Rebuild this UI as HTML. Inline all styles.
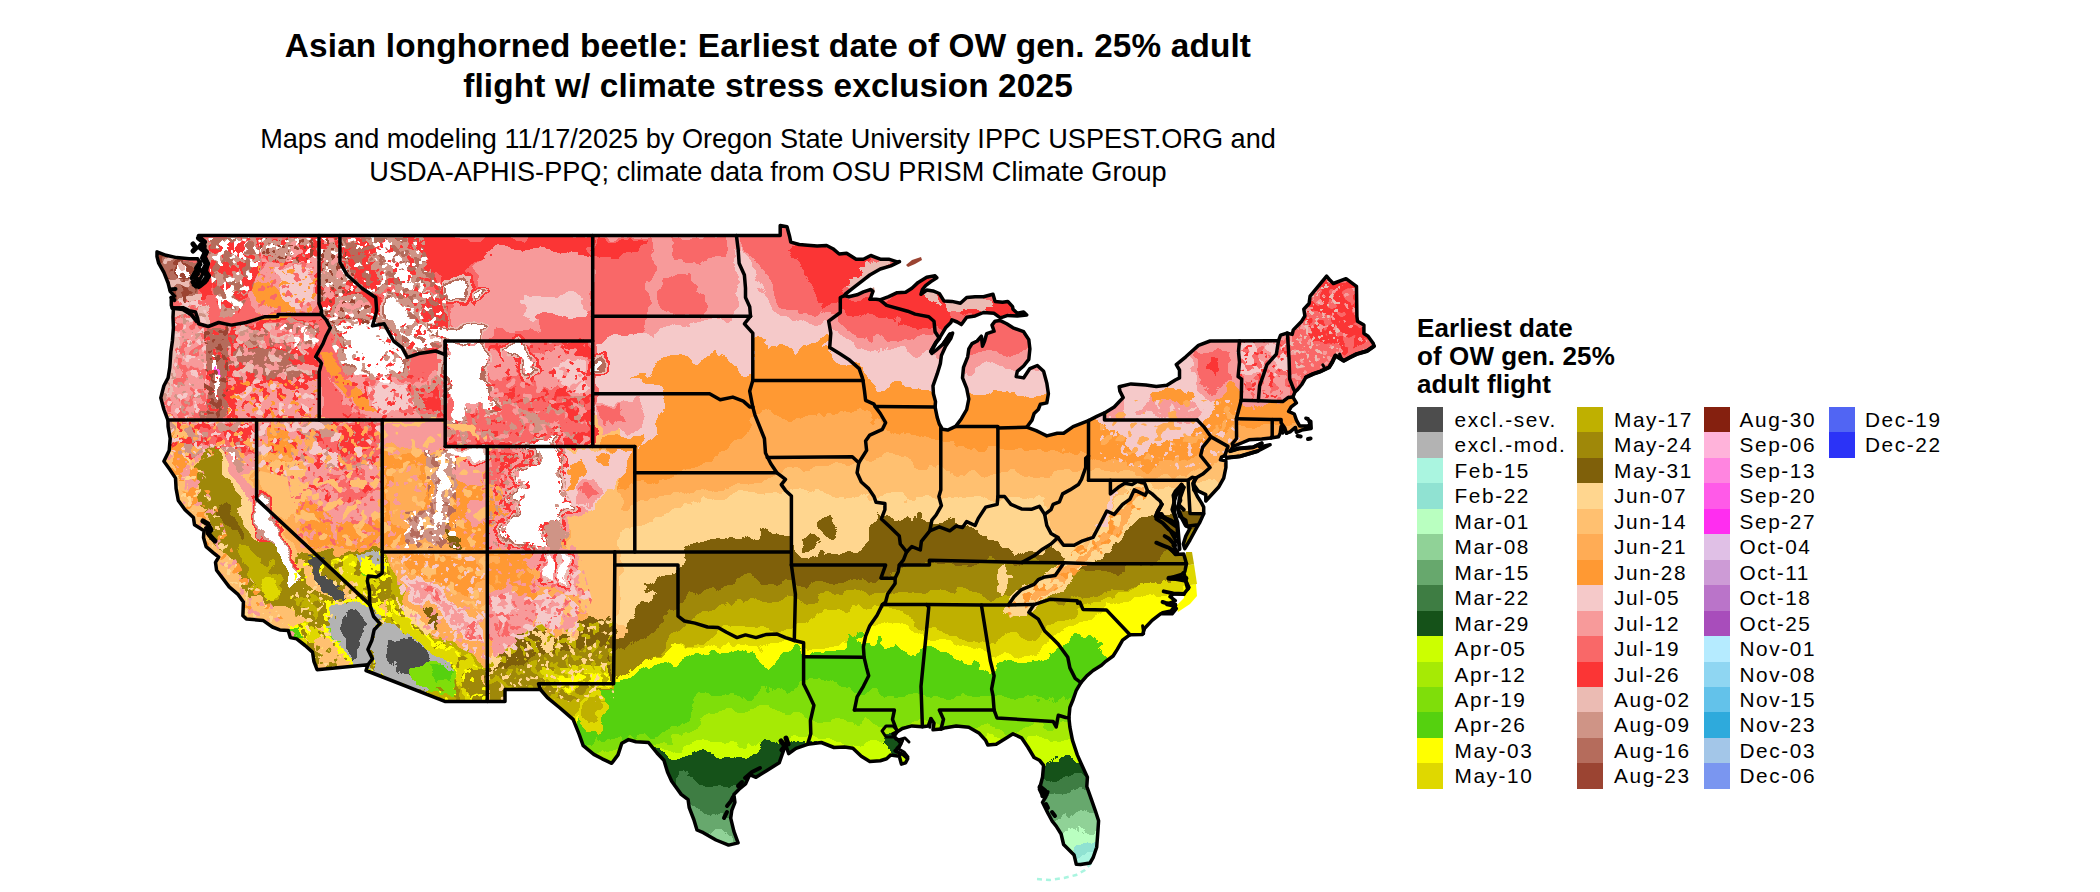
<!DOCTYPE html>
<html><head><meta charset="utf-8"><title>ALB map</title>
<style>
html,body{margin:0;padding:0;background:#fff;}
body{width:2100px;height:892px;position:relative;overflow:hidden;font-family:"Liberation Sans",sans-serif;color:#000;}
.t{position:absolute;white-space:nowrap;text-align:center;left:0;width:1536px;}
.t1{font-weight:bold;font-size:33.33px;letter-spacing:0.15px;line-height:40px;}
.t2{font-size:27.14px;line-height:33.25px;}
.lt{position:absolute;left:1417px;font-weight:bold;font-size:26px;letter-spacing:0.1px;line-height:28px;white-space:nowrap;}
.sw{position:absolute;width:26px;height:25.9px;}
.lb{position:absolute;font-size:20.8px;letter-spacing:1.6px;white-space:nowrap;line-height:25.45px;}
svg{position:absolute;left:0;top:0;}
</style></head><body>
<div class="t t1" style="top:26px">Asian longhorned beetle: Earliest date of OW gen. 25% adult<br>flight w/ climate stress exclusion 2025</div>
<div class="t t2" style="top:122px">Maps and modeling 11/17/2025 by Oregon State University IPPC USPEST.ORG and<br>USDA-APHIS-PPQ; climate data from OSU PRISM Climate Group</div>
<div class="lt" style="top:314px">Earliest date<br>of OW gen. 25%<br>adult flight</div>
<svg width="2100" height="892" viewBox="0 0 2100 892">
<defs>
<clipPath id="us"><path d="M198.5,235.5 L780.2,235.5 L780.2,225.5 L787.0,226.8 L789.7,236.8 L790.8,242.1 L799.2,244.5 L807.6,245.3 L817.1,246.0 L826.6,245.5 L832.9,248.7 L839.2,254.0 L846.6,253.2 L856.1,259.2 L863.4,259.2 L870.8,255.5 L880.3,259.2 L888.7,259.2 L897.2,261.9 L899.5,261.6 L890.8,265.8 L880.3,269.0 L869.8,275.0 L861.3,281.6 L852.9,288.2 L845.5,294.0 L844.5,295.6 L848.7,296.7 L857.1,294.8 L863.4,291.9 L870.8,289.5 L872.9,291.4 L870.8,297.5 L869.8,299.3 L876.1,299.3 L879.9,299.8 L888.7,296.7 L897.2,292.7 L905.6,292.2 L911.9,288.2 L918.2,282.4 L926.7,277.2 L935.1,275.8 L936.8,277.7 L930.9,281.6 L925.6,285.6 L922.4,289.5 L921.0,294.3 L926.7,290.1 L933.0,290.9 L939.3,293.5 L943.9,300.9 L951.9,301.4 L960.4,303.3 L966.7,297.5 L975.1,296.7 L983.5,296.7 L993.0,294.3 L995.1,301.4 L1002.5,302.2 L1007.8,301.4 L1012.6,306.7 L1013.0,309.3 L1017.3,313.3 L1023.6,312.0 L1026.7,315.1 L1017.3,315.9 L1007.8,315.4 L1000.4,317.8 L994.1,313.3 L983.5,312.5 L975.1,315.9 L966.7,317.2 L961.4,324.6 L957.2,322.0 L951.9,319.9 L950.9,322.5 L945.6,327.8 L939.3,338.3 L936.1,342.3 L930.9,351.5 L931.9,353.4 L936.1,350.2 L943.5,343.6 L949.8,334.4 L952.6,333.1 L950.9,338.3 L945.6,346.2 L941.4,355.5 L940.4,363.4 L937.2,373.9 L933.0,385.8 L933.4,393.7 L935.5,401.6 L935.1,407.1 L937.2,417.4 L939.3,424.0 L942.5,429.3 L947.7,430.1 L954.0,427.2 L955.7,426.4 L961.4,418.7 L966.7,409.5 L968.8,399.0 L966.7,388.4 L962.5,377.9 L963.5,367.3 L967.7,356.8 L968.8,348.9 L972.0,343.6 L977.2,341.0 L981.4,336.2 L982.5,346.2 L984.6,341.0 L986.7,333.6 L994.1,331.2 L992.0,325.1 L995.1,321.2 L999.8,320.4 L1006.7,323.8 L1013.0,327.8 L1023.6,331.7 L1028.8,339.6 L1029.9,348.9 L1028.8,359.4 L1023.6,366.0 L1017.3,371.3 L1016.2,376.6 L1023.6,377.9 L1029.9,368.6 L1037.3,365.5 L1043.6,371.3 L1046.8,383.1 L1048.4,393.7 L1046.8,402.9 L1040.4,404.2 L1038.3,409.5 L1034.1,413.5 L1032.0,420.1 L1026.7,427.2 L1036.2,430.6 L1041.5,433.2 L1046.8,435.9 L1057.3,433.2 L1063.6,433.2 L1073.1,426.6 L1088.5,420.6 L1097.3,416.1 L1104.5,412.9 L1114.2,406.9 L1119.4,401.6 L1123.2,397.6 L1119.9,391.1 L1119.2,386.8 L1131.0,383.9 L1145.8,385.0 L1156.3,386.6 L1166.9,385.3 L1175.3,380.0 L1179.5,377.9 L1179.5,370.0 L1176.3,364.7 L1185.8,356.8 L1198.5,345.4 L1210.1,341.0 L1278.5,340.7 L1280.6,335.2 L1287.0,333.1 L1292.2,334.4 L1293.3,329.9 L1301.7,321.2 L1304.9,315.9 L1303.8,309.3 L1309.1,303.5 L1310.1,296.1 L1326.6,276.1 L1330.1,280.3 L1333.3,283.5 L1346.0,278.7 L1356.5,286.4 L1356.9,316.4 L1357.5,321.2 L1363.9,325.1 L1363.9,333.6 L1368.1,336.2 L1373.3,343.6 L1374.0,346.2 L1367.0,351.0 L1356.5,354.1 L1350.2,357.3 L1343.8,360.7 L1335.4,355.5 L1332.3,362.1 L1329.1,367.3 L1320.7,371.3 L1313.3,373.9 L1305.9,377.3 L1301.7,384.5 L1297.5,389.7 L1295.0,391.8 L1292.9,397.1 L1296.4,402.9 L1291.2,406.9 L1288.6,411.4 L1294.3,414.0 L1296.4,420.1 L1299.6,425.9 L1308.0,426.1 L1310.1,424.0 L1308.0,418.7 L1305.9,418.2 L1310.8,421.4 L1311.2,428.5 L1301.7,430.1 L1296.4,432.4 L1295.4,427.4 L1290.1,431.9 L1286.5,433.2 L1283.8,429.3 L1281.1,426.6 L1280.2,433.2 L1278.5,436.7 L1270.9,438.0 L1261.7,439.0 L1249.0,439.8 L1242.7,442.5 L1233.2,446.4 L1230.1,451.2 L1238.5,448.5 L1253.2,447.2 L1261.7,443.3 L1259.6,446.9 L1270.1,444.8 L1257.5,451.2 L1240.6,456.2 L1226.9,457.8 L1224.8,455.6 L1221.6,457.0 L1220.4,459.9 L1225.9,460.9 L1225.9,467.5 L1223.7,478.1 L1218.5,487.3 L1211.1,495.2 L1205.8,501.0 L1205.8,494.7 L1198.5,491.2 L1193.6,484.6 L1194.2,480.7 L1195.9,478.1 L1193.2,483.3 L1194.2,489.9 L1197.4,496.5 L1201.6,503.1 L1203.7,507.1 L1203.7,513.7 L1199.5,522.9 L1196.4,528.2 L1190.0,540.0 L1184.8,548.7 L1183.3,544.0 L1185.8,536.1 L1190.0,528.2 L1186.9,526.3 L1185.8,520.2 L1179.5,516.3 L1177.4,507.1 L1180.6,500.5 L1179.5,492.6 L1183.7,487.3 L1181.6,484.6 L1175.3,491.2 L1173.2,495.2 L1174.2,501.8 L1172.1,509.7 L1175.3,517.6 L1176.8,524.2 L1171.1,520.2 L1163.7,517.6 L1161.6,513.7 L1156.3,515.0 L1159.5,508.4 L1161.8,504.4 L1158.4,509.7 L1155.3,516.3 L1162.6,517.6 L1169.0,521.6 L1177.4,527.6 L1177.4,536.1 L1171.1,532.1 L1176.3,541.3 L1173.2,545.3 L1177.4,551.9 L1171.1,549.2 L1175.3,554.5 L1183.7,554.0 L1186.5,563.7 L1184.8,571.7 L1181.6,574.3 L1173.2,576.9 L1169.0,578.2 L1177.4,579.6 L1185.8,580.9 L1189.0,587.5 L1183.7,594.1 L1173.2,594.1 L1170.0,596.7 L1175.3,600.7 L1166.9,604.6 L1173.2,605.9 L1176.3,608.6 L1172.1,613.8 L1160.5,613.8 L1152.1,620.4 L1144.7,628.3 L1142.6,634.4 L1130.0,634.7 L1122.6,640.2 L1117.3,649.4 L1113.1,656.0 L1105.8,661.3 L1101.5,665.2 L1093.1,670.5 L1086.8,675.8 L1080.9,682.7 L1076.3,690.3 L1073.1,699.5 L1069.9,707.4 L1068.9,717.7 L1069.9,727.2 L1072.5,740.4 L1077.3,754.9 L1082.6,766.8 L1087.4,777.3 L1086.8,786.5 L1091.0,798.4 L1095.2,810.3 L1098.6,820.8 L1097.7,834.0 L1096.7,847.2 L1093.1,857.7 L1090.0,863.0 L1080.5,864.6 L1076.3,864.3 L1074.1,855.1 L1063.6,844.5 L1061.1,834.0 L1056.2,826.1 L1052.0,820.8 L1047.8,812.9 L1042.5,802.3 L1045.7,797.1 L1047.8,791.8 L1042.5,795.8 L1039.4,789.2 L1042.5,777.3 L1043.6,765.4 L1039.4,760.2 L1034.1,757.5 L1027.8,747.0 L1021.5,737.8 L1013.0,733.8 L1006.7,737.8 L996.2,744.3 L987.8,744.9 L985.7,740.4 L979.3,733.3 L968.8,727.2 L956.2,725.9 L945.6,727.7 L941.0,729.1 L933.0,729.8 L934.0,723.3 L930.9,718.5 L928.3,725.9 L922.4,726.7 L911.9,725.9 L902.4,728.5 L897.2,731.7 L892.9,733.8 L896.1,739.1 L902.4,740.4 L899.3,747.0 L895.1,750.9 L903.5,754.9 L907.7,758.8 L905.6,762.8 L901.4,764.1 L899.3,756.2 L890.8,754.9 L886.6,758.8 L880.3,760.7 L869.8,761.5 L861.3,756.2 L852.9,748.3 L844.5,747.0 L834.0,747.5 L821.3,742.5 L807.6,744.3 L796.0,748.3 L788.7,753.6 L785.5,744.3 L783.4,750.9 L779.2,762.8 L766.5,770.7 L756.0,777.3 L749.7,774.7 L745.5,783.9 L739.1,789.2 L733.9,794.4 L734.9,802.3 L731.8,810.3 L730.7,818.2 L733.9,831.3 L738.1,842.9 L728.6,845.1 L716.0,840.0 L703.3,832.7 L697.0,830.0 L693.8,819.5 L689.2,807.6 L688.1,799.7 L681.2,794.4 L671.7,781.3 L667.5,772.0 L663.9,760.2 L657.0,753.0 L648.5,742.5 L635.9,741.7 L628.5,739.6 L621.8,743.3 L618.0,754.9 L611.7,763.3 L602.2,758.8 L593.8,754.4 L583.2,745.7 L579.0,733.8 L573.1,719.3 L560.0,708.0 L547.4,697.7 L540.4,689.5 L505.0,689.5 L505.0,701.4 L444.8,701.4 L366.0,670.5 L367.9,664.7 L317.1,669.7 L313.9,661.3 L312.5,652.1 L305.1,645.5 L296.7,638.9 L290.3,637.6 L288.2,630.4 L279.8,629.9 L272.4,627.0 L263.0,620.4 L246.7,619.1 L242.9,615.7 L243.4,602.0 L237.7,594.1 L229.2,586.9 L216.6,570.3 L215.5,562.4 L218.7,557.2 L213.4,552.9 L206.1,546.6 L203.5,537.4 L204.0,530.8 L194.5,524.7 L193.4,517.6 L185.0,509.7 L178.3,500.5 L176.1,488.6 L175.5,478.1 L170.2,470.1 L163.9,461.2 L169.2,450.4 L170.2,438.5 L168.1,426.6 L167.9,420.1 L163.9,409.5 L160.8,397.9 L163.9,385.8 L168.1,377.9 L169.8,367.3 L170.9,351.5 L172.4,341.0 L173.4,327.8 L173.0,317.2 L173.4,309.3 L172.4,308.0 L171.3,305.4 L171.3,297.5 L174.5,296.1 L170.2,291.4 L168.1,283.0 L163.9,272.4 L158.7,263.2 L157.0,256.6 L157.0,251.8 L166.0,255.3 L176.6,257.6 L189.2,258.7 L197.6,258.7 L200.8,264.5 L194.5,272.4 L191.3,278.2 L195.5,277.7 L199.7,268.5 L202.9,273.7 L198.7,281.6 L193.4,285.1 L201.9,284.3 L207.1,280.3 L206.1,272.4 L208.2,263.2 L204.0,254.0 L205.0,246.0 L201.9,239.5 L198.5,235.5Z"/></clipPath>
<filter id="rough" filterUnits="userSpaceOnUse" x="120" y="200" width="1320" height="692" color-interpolation-filters="sRGB"><feTurbulence type="fractalNoise" baseFrequency="0.045" numOctaves="3" seed="7" result="n"/><feDisplacementMap in="SourceGraphic" in2="n" scale="22" xChannelSelector="R" yChannelSelector="G"/></filter>
<filter id="sa" filterUnits="userSpaceOnUse" x="120" y="200" width="1320" height="692" color-interpolation-filters="sRGB"><feTurbulence type="fractalNoise" baseFrequency="0.11" numOctaves="2" seed="11" result="n"/><feColorMatrix in="n" type="matrix" values="0 0 0 0 0 0 0 0 0 0 0 0 0 0 0 40 0 0 0 -20.00" result="m"/><feComposite in="SourceGraphic" in2="m" operator="in"/></filter>
<filter id="sb" filterUnits="userSpaceOnUse" x="120" y="200" width="1320" height="692" color-interpolation-filters="sRGB"><feTurbulence type="fractalNoise" baseFrequency="0.11" numOctaves="2" seed="23" result="n"/><feColorMatrix in="n" type="matrix" values="0 0 0 0 0 0 0 0 0 0 0 0 0 0 0 40 0 0 0 -22.00" result="m"/><feComposite in="SourceGraphic" in2="m" operator="in"/></filter>
<filter id="sc" filterUnits="userSpaceOnUse" x="120" y="200" width="1320" height="692" color-interpolation-filters="sRGB"><feTurbulence type="fractalNoise" baseFrequency="0.13" numOctaves="2" seed="37" result="n"/><feColorMatrix in="n" type="matrix" values="0 0 0 0 0 0 0 0 0 0 0 0 0 0 0 40 0 0 0 -23.20" result="m"/><feComposite in="SourceGraphic" in2="m" operator="in"/></filter>
<filter id="sd" filterUnits="userSpaceOnUse" x="120" y="200" width="1320" height="692" color-interpolation-filters="sRGB"><feTurbulence type="fractalNoise" baseFrequency="0.13" numOctaves="2" seed="41" result="n"/><feColorMatrix in="n" type="matrix" values="0 0 0 0 0 0 0 0 0 0 0 0 0 0 0 40 0 0 0 -24.40" result="m"/><feComposite in="SourceGraphic" in2="m" operator="in"/></filter>
<filter id="se" filterUnits="userSpaceOnUse" x="120" y="200" width="1320" height="692" color-interpolation-filters="sRGB"><feTurbulence type="fractalNoise" baseFrequency="0.16" numOctaves="2" seed="53" result="n"/><feColorMatrix in="n" type="matrix" values="0 0 0 0 0 0 0 0 0 0 0 0 0 0 0 40 0 0 0 -25.60" result="m"/><feComposite in="SourceGraphic" in2="m" operator="in"/></filter>
<filter id="sf" filterUnits="userSpaceOnUse" x="120" y="200" width="1320" height="692" color-interpolation-filters="sRGB"><feTurbulence type="fractalNoise" baseFrequency="0.09" numOctaves="2" seed="67" result="n"/><feColorMatrix in="n" type="matrix" values="0 0 0 0 0 0 0 0 0 0 0 0 0 0 0 40 0 0 0 -22.00" result="m"/><feComposite in="SourceGraphic" in2="m" operator="in"/></filter>
<filter id="sg" filterUnits="userSpaceOnUse" x="120" y="200" width="1320" height="692" color-interpolation-filters="sRGB"><feTurbulence type="fractalNoise" baseFrequency="0.09" numOctaves="2" seed="71" result="n"/><feColorMatrix in="n" type="matrix" values="0 0 0 0 0 0 0 0 0 0 0 0 0 0 0 40 0 0 0 -24.00" result="m"/><feComposite in="SourceGraphic" in2="m" operator="in"/></filter>
<filter id="sh" filterUnits="userSpaceOnUse" x="120" y="200" width="1320" height="692" color-interpolation-filters="sRGB"><feTurbulence type="fractalNoise" baseFrequency="0.2" numOctaves="2" seed="83" result="n"/><feColorMatrix in="n" type="matrix" values="0 0 0 0 0 0 0 0 0 0 0 0 0 0 0 40 0 0 0 -24.80" result="m"/><feComposite in="SourceGraphic" in2="m" operator="in"/></filter>
<filter id="si" filterUnits="userSpaceOnUse" x="120" y="200" width="1320" height="692" color-interpolation-filters="sRGB"><feTurbulence type="fractalNoise" baseFrequency="0.11" numOctaves="2" seed="97" result="n"/><feColorMatrix in="n" type="matrix" values="0 0 0 0 0 0 0 0 0 0 0 0 0 0 0 40 0 0 0 -20.80" result="m"/><feComposite in="SourceGraphic" in2="m" operator="in"/></filter>
<filter id="sj" filterUnits="userSpaceOnUse" x="120" y="200" width="1320" height="692" color-interpolation-filters="sRGB"><feTurbulence type="fractalNoise" baseFrequency="0.14" numOctaves="2" seed="101" result="n"/><feColorMatrix in="n" type="matrix" values="0 0 0 0 0 0 0 0 0 0 0 0 0 0 0 40 0 0 0 -22.80" result="m"/><feComposite in="SourceGraphic" in2="m" operator="in"/></filter>
</defs>
<g clip-path="url(#us)"><g filter="url(#rough)" shape-rendering="crispEdges">
<polygon fill="#f79a9a" points="580,220 1420,220 1420,900 580,900"/>
<polygon fill="#f96868" points="594,237 652,237 656,260 646,290 650,315 650,320 640,338 594,342"/>
<polygon fill="#f96868" points="670,237 726,237 724,257 700,263 672,258"/>
<polygon fill="#f96868" points="660,283 690,279 706,290 704,313 680,316 660,310"/>
<polygon fill="#f96868" points="738,225 752,255 766,275 772,291 780,305 800,313 820,311 828,313 838,319 852,329 870,337 890,341 910,343 930,337 942,329 955,335 960,352 1000,352 1050,350 1050,225"/>
<polygon fill="#f79a9a" points="1176,352 1200,340 1238,340 1240,392 1215,398 1190,392"/>
<polygon fill="#f96868" points="1196,352 1214,346 1232,352 1234,384 1216,392 1200,382"/>
<polygon fill="#f79a9a" points="1238,336 1310,318 1310,368 1270,380 1240,378"/>
<polygon fill="#f5c9c9" points="1240,340 1256,338 1258,376 1240,380"/>
<polygon fill="#f5c9c9" points="1268,350 1284,340 1290,372 1272,378"/>
<polygon fill="#f96868" points="1285,268 1385,268 1385,400 1285,400"/>
<polygon fill="#fb3535" points="596,239 646,239 642,252 620,257 596,255"/>
<polygon fill="#fb3535" points="790,249 800,243 830,253 872,259 866,271 848,281 842,291 840,305 822,309 816,295 810,281 800,265"/>
<polygon fill="#fb3535" points="838,297 870,297 900,303 918,289 932,299 952,309 944,321 920,329 900,321 880,319 860,315 840,309"/>
<polygon fill="#fb3535" points="884,300 900,288 930,280 950,288 950,318 920,322 895,316"/>
<polygon fill="#fb3535" points="957,301 1000,299 1028,306 1020,316 985,316 960,313"/>
<polygon fill="#fb3535" points="1300,280 1366,280 1372,338 1345,352 1312,342 1296,312"/>
<polygon fill="#fb3535" points="1206,358 1218,356 1222,370 1212,376 1205,368"/>
<polygon fill="#f79a9a" points="1296,402 1318,384 1345,368 1372,350 1388,356 1388,405"/>
<polygon fill="#f79a9a" points="1240,372 1270,376 1300,372 1300,402 1240,402"/>
<polygon fill="#ebbbb3" points="846,285 860,267 880,259 896,259 872,275 854,289"/>
<polygon fill="#ebbbb3" points="921,291 934,290 942,302 932,306"/>
<polygon fill="#ebbbb3" points="946,300 990,300 992,309 950,311"/>
<polygon fill="#f5c9c9" points="594,345 610,337 630,337 650,331 670,325 684,329 700,319 720,321 732,319 740,300 736,270 732,245 745,243 752,265 756,285 764,301 772,311 780,321 792,325 810,323 826,321 830,329 840,337 860,345 880,349 900,353 920,355 948,353 948,420 594,452"/>
<polygon fill="#f5c9c9" points="520,296 580,294 584,318 548,324 520,318"/>
<polygon fill="#f5c9c9" points="955,372 1052,368 1056,402 955,402"/>
<polygon fill="#f5c9c9" points="1085,398 1128,382 1150,352 1180,346 1192,350 1196,388 1214,398 1238,394 1238,436 1215,446 1195,440 1180,446 1160,447 1140,451 1120,447 1105,441 1095,427"/>
<polygon fill="#f79a9a" points="1150,392 1180,396 1200,410 1190,424 1160,420 1140,410"/>
<polygon fill="#f79a9a" points="1100,404 1125,400 1130,414 1108,420"/>
<polygon fill="#ff9933" points="566,552 568,520 574,512 588,508 600,504 618,494 616,480 620,460 632,448 640,446 656,438 660,420 664,402 656,388 634,378 650,371 664,357 684,357 704,363 716,347 728,361 740,373 752,370 756,337 768,335 772,345 784,353 796,355 806,345 820,339 826,345 836,363 860,369 868,377 880,385 900,387 920,393 945,395 960,392 980,390 1000,393 1020,395 1050,392 1075,400 1095,410 1102,422 1110,436 1125,442 1140,446 1160,442 1180,440 1195,436 1205,425 1212,410 1222,395 1232,386 1238,392 1240,400 1255,406 1270,400 1290,398 1310,396 1330,396 1340,420 1420,420 1420,900 560,900"/>
<polygon fill="#ff9933" points="1150,392 1170,388 1192,390 1194,400 1172,404 1152,402"/>
<polygon fill="#f5c9c9" points="1126,440 1146,436 1152,448 1134,456"/>
<polygon fill="#ffac55" points="540,500 560,500 600,500 634,482 660,478 690,472 706,462 724,448 740,432 752,418 770,414 790,418 810,414 835,416 860,414 876,420 888,428 904,432 920,436 938,440 960,446 1000,448 1040,450 1080,452 1095,458 1120,464 1150,468 1175,462 1195,452 1210,442 1225,432 1240,426 1420,426 1420,900 540,900"/>
<polygon fill="#ffc070" points="540,520 560,520 600,518 634,505 660,498 700,492 740,484 770,476 792,470 820,466 856,462 866,458 880,456 900,460 920,464 940,468 960,472 1000,476 1040,474 1080,470 1100,474 1130,478 1160,480 1190,476 1215,464 1230,452 1420,452 1420,900 540,900"/>
<polygon fill="#ffd68f" points="540,540 560,540 600,538 634,528 670,512 700,502 720,497 740,494 760,496 790,492 800,488 820,492 840,492 860,496 876,500 890,498 910,500 938,498 950,500 980,502 1000,500 1030,498 1060,496 1080,500 1100,496 1130,492 1160,488 1190,486 1215,480 1420,480 1420,900 540,900"/>
<polygon fill="#7f600a" points="540,640 560,640 586,616 600,620 614,622 620,630 626,624 638,618 640,606 656,598 660,590 640,588 656,580 668,574 676,568 680,560 684,554 704,544 732,540 740,542 754,536 770,532 788,540 792,554 806,558 820,553 836,556 850,550 864,546 872,530 878,508 884,516 892,518 910,520 920,518 940,520 946,516 960,524 978,524 988,536 1000,540 1008,546 1020,544 1032,550 1044,546 1056,552 1070,560 1085,562 1100,554 1112,538 1130,526 1150,516 1170,513 1190,513 1210,513 1420,513 1420,900 540,900"/>
<polygon fill="#7f600a" points="820,518 832,514 840,526 832,536 822,532"/>
<polygon fill="#7f600a" points="800,536 812,532 816,546 804,552"/>
<polygon fill="#7f600a" points="760,528 772,526 774,536 762,538"/>
<polygon fill="#9f8809" points="540,670 560,670 600,650 620,648 640,640 660,625 680,600 690,590 700,596 712,584 724,590 736,582 750,576 764,580 780,584 792,580 810,584 830,586 850,584 870,580 892,576 900,570 920,564 960,560 1000,562 1040,563 1070,568 1100,572 1130,570 1160,566 1170,545 1190,530 1215,520 1420,520 1420,900 540,900"/>
<polygon fill="#bfb000" points="540,700 560,700 600,690 640,665 660,650 680,630 700,615 720,606 740,600 760,598 780,604 800,600 820,596 850,596 880,594 900,590 930,590 960,592 1000,596 1040,598 1060,604 1080,600 1100,592 1130,588 1160,584 1190,570 1215,545 1420,545 1420,900 540,900"/>
<polygon fill="#dfd800" points="540,720 560,720 600,705 640,690 660,672 680,650 700,640 720,630 740,626 760,628 780,632 796,626 820,612 850,606 880,604 900,612 920,624 950,636 980,642 1000,640 1030,636 1050,628 1080,612 1110,596 1140,586 1170,578 1200,568 1420,568 1420,900 540,900"/>
<polygon fill="#ffff00" points="540,735 560,735 596,700 616,672 630,668 646,658 664,652 684,648 704,644 720,648 740,644 756,648 770,642 790,642 802,642 810,648 830,648 846,642 860,640 866,626 880,622 900,626 920,630 928,634 930,638 950,644 970,648 988,652 1000,654 1020,654 1040,648 1060,638 1080,624 1100,612 1116,602 1140,598 1170,594 1196,590 1420,590 1420,900 540,900"/>
<polygon fill="#55d10f" points="540,750 560,750 580,720 592,690 610,680 624,676 644,668 664,662 684,660 704,656 724,654 740,650 756,656 768,668 780,656 790,650 800,646 804,652 820,654 840,652 848,644 852,632 860,640 868,644 880,640 890,650 910,652 920,644 928,646 932,652 940,658 956,662 970,664 988,667 1000,665 1010,663 1040,657 1060,647 1075,639 1090,637 1103,646 1113,653 1130,656 1420,656 1420,900 540,900"/>
<polygon fill="#7fde0a" points="540,780 560,780 596,738 640,734 680,727 692,712 700,697 750,694 800,684 812,677 860,692 900,696 940,698 1000,699 1050,699 1090,691 1120,681 1420,681 1420,900 540,900"/>
<polygon fill="#a6ea05" points="540,800 560,800 600,748 680,740 700,722 720,710 760,708 800,714 812,718 820,722 850,724 864,718 870,724 900,726 920,724 930,726 980,728 1000,730 1040,728 1080,724 1100,716 1112,706 1420,706 1420,900 540,900"/>
<polygon fill="#ccff00" points="540,820 560,820 640,752 680,748 700,742 720,740 740,744 760,742 790,738 810,740 820,742 850,744 880,747 900,744 930,738 960,735 1000,738 1040,740 1080,740 1100,738 1112,732 1420,732 1420,900 540,900"/>
<polygon fill="#155219" points="640,760 654,747 670,757 692,755 708,751 720,757 732,757 744,759 756,753 766,741 776,736 788,741 800,746 830,750 830,900 640,900"/>
<polygon fill="#3e7d43" points="660,790 672,779 686,775 696,779 704,787 716,785 728,789 740,786 760,790 760,900 660,900"/>
<polygon fill="#67a86d" points="680,806 688,799 696,803 700,815 710,817 720,813 728,819 750,820 750,900 680,900"/>
<polygon fill="#90d297" points="700,836 708,831 720,833 730,839 750,842 750,900 700,900"/>
<polygon fill="#155219" points="883,737 892,733 902,738 903,750 893,754 884,748"/>
<polygon fill="#155219" points="1030,772 1041,765 1054,758 1067,755 1080,761 1100,765 1100,900 1030,900"/>
<polygon fill="#3e7d43" points="1035,782 1050,777 1066,775 1082,779 1100,782 1100,900 1035,900"/>
<polygon fill="#67a86d" points="1040,798 1056,793 1070,792 1086,796 1104,800 1104,900 1040,900"/>
<polygon fill="#90d297" points="1050,818 1064,814 1080,816 1092,812 1108,812 1108,900 1050,900"/>
<polygon fill="#b9ffc0" points="1058,836 1072,833 1086,830 1098,824 1110,824 1110,900 1058,900"/>
<polygon fill="#90e2d2" points="1066,850 1080,846 1094,840 1104,836 1112,836 1112,900 1066,900"/>
<polygon fill="#aaf5e0" points="1074,860 1088,856 1100,852 1112,850 1112,900 1074,900"/>
<polygon fill="#ffc070" points="1046,500 1060,480 1090,470 1130,470 1150,480 1140,500 1125,520 1105,545 1085,555 1065,545 1050,525"/>
<polygon fill="#ffd68f" points="1006,608 1012,598 1024,590 1036,582 1048,572 1060,564 1068,556 1080,550 1092,540 1098,530 1104,520 1112,510 1120,500 1126,490 1132,482 1140,478 1148,482 1152,494 1140,510 1132,522 1120,536 1112,546 1100,558 1092,564 1080,570 1068,582 1056,590 1044,598 1034,608 1024,616 1010,618"/>
<polygon fill="#ffac55" points="1030,596 1042,586 1056,574 1070,562 1084,552 1096,540 1104,528 1112,516 1122,504 1130,492 1138,486 1142,494 1132,510 1122,524 1112,538 1100,550 1088,560 1074,572 1060,582 1046,592 1034,602"/>
<polygon fill="#f5c9c9" points="1096,524 1104,510 1112,498 1118,488 1122,492 1114,506 1106,518 1100,528"/>
<polygon fill="#ffd68f" points="992,590 998,570 1008,566 1012,580 1002,596"/>
<polygon fill="#ffd68f" points="1010,540 1030,528 1046,530 1052,544 1040,556 1022,554"/>
<polygon fill="#ffd68f" points="950,506 990,503 1010,512 1020,530 1000,538 975,530 955,520"/>
<polygon fill="#f96868" points="140,220 596,220 596,452 566,452 566,470 520,470 487,470 487,462 445,462 445,440 382,440 382,500 330,500 256,470 256,440 140,440"/>
<polygon fill="#ffc070" points="140,420 620,420 620,640 566,640 540,690 540,720 140,720"/>
<polygon fill="#fb3535" points="400,236 594,236 594,258 560,252 520,248 484,254 470,270 440,282 410,282 400,270"/>
<polygon fill="#f79a9a" points="484,252 520,247 560,251 592,256 592,310 560,314 540,330 512,334 496,326 486,310 480,290 476,270"/>
<polygon fill="#f5c9c9" points="520,296 580,294 584,318 548,324 520,318"/>
<polygon fill="#f96868" points="540,318 594,312 594,342 560,342 540,336"/>
<polygon fill="#f79a9a" points="450,300 480,296 500,320 490,338 460,336 448,320"/>
<polygon fill="#fb3535" points="445,398 594,396 594,446 445,446"/>
<polygon fill="#f96868" points="470,404 520,400 560,410 580,430 540,440 500,436 474,424"/>
<polygon fill="#cf9486" points="448,404 470,400 476,420 486,440 460,444 447,430"/>
<polygon fill="#cf9486" points="520,420 546,414 556,430 548,444 524,442"/>
<polygon fill="#f79a9a" points="488,346 508,350 514,372 502,382 488,368"/>
<polygon fill="#f79a9a" points="534,350 570,346 590,360 592,392 560,396 540,380"/>
<polygon fill="#f5c9c9" points="552,366 584,362 590,386 560,390"/>
<polygon fill="#fb3535" points="506,340 520,340 540,362 540,380 524,378 510,360"/>
<polygon fill="#fb3535" points="560,344 592,342 592,356 572,356"/>
<polygon fill="#fb3535" points="258,238 319,238 319,264 290,266 262,262"/>
<polygon fill="#cf9486" points="262,240 290,240 300,252 280,260 264,254"/>
<polygon fill="#f79a9a" points="258,264 319,262 319,312 290,314 262,316 250,300 254,280"/>
<polygon fill="#f5c9c9" points="274,268 312,268 317,300 292,308 278,296"/>
<polygon fill="#ff9933" points="254,278 262,274 270,284 282,298 296,304 300,311 280,313 264,304 256,292"/>
<polygon fill="#ff9933" points="254,318 290,315 292,323 256,326"/>
<polygon fill="#b56c5c" points="158,252 196,256 200,275 196,300 176,306 166,290 160,270"/>
<polygon fill="#ebbbb3" points="172,300 200,298 210,322 176,318"/>
<polygon fill="#fb3535" points="197,262 210,262 212,300 200,300"/>
<polygon fill="#9b4432" points="176,264 184,260 192,264 190,274 180,276" stroke="#9b4432" stroke-width="5" stroke-linejoin="round"/>
<polygon fill="#ffffff" points="176,264 184,260 192,264 190,274 180,276"/>
<polygon fill="#cf9486" points="208,238 258,238 260,262 252,290 238,314 222,314 214,296 210,270"/>
<polygon fill="#fb3535" points="238,262 258,258 256,280 244,300 236,296 240,276"/>
<polygon fill="#ffffff" points="216,240 248,240 250,250 238,256 226,252 216,254"/>
<polygon fill="#ffffff" points="222,284 232,282 236,296 230,308 222,306"/>
<polygon fill="#fb3535" points="216,262 230,260 232,272 220,274"/>
<polygon fill="#fb3535" points="224,246 232,244 234,252 226,254"/>
<polygon fill="#f79a9a" points="166,320 200,326 206,350 204,400 196,419 166,419 162,395 168,360"/>
<polygon fill="#ebbbb3" points="164,325 178,326 176,360 172,395 163,395"/>
<polygon fill="#fb3535" points="226,324 319,322 319,419 226,419"/>
<polygon fill="#b56c5c" points="206,326 226,326 228,360 226,400 222,419 204,419 206,380"/>
<polygon fill="#ffffff" points="214,356 217,356 219,384 216,398 213,396 214,372"/>
<polygon fill="#ff5ae8" points="216,368 221,370 220,378 215,376"/>
<polygon fill="#b56c5c" points="232,348 262,346 286,352 300,364 290,378 262,376 244,370 232,362"/>
<polygon fill="#cf9486" points="236,330 270,330 282,340 250,344"/>
<polygon fill="#cf9486" points="286,322 316,326 316,346 296,350 284,338"/>
<polygon fill="#ffffff" points="304,332 312,334 310,342 304,340"/>
<polygon fill="#f79a9a" points="246,386 319,382 319,419 230,419"/>
<polygon fill="#f96868" points="262,326 300,326 304,342 280,348 264,340"/>
<polygon fill="#fb3535" points="319,238 345,238 360,290 380,300 384,322 340,326 319,312"/>
<polygon fill="#cf9486" points="322,250 338,248 346,272 336,290 324,282"/>
<polygon fill="#cf9486" points="330,296 360,294 372,310 350,322 332,316"/>
<polygon fill="#cf9486" points="340,238 420,238 430,270 424,300 408,300 396,290 376,296 360,288 345,272"/>
<polygon fill="#ffffff" points="370,240 390,240 404,262 412,286 404,288 392,272 380,258"/>
<polygon fill="#fb3535" points="344,244 364,242 372,262 384,280 372,290 358,282 348,266"/>
<polygon fill="#b56c5c" points="352,250 362,250 368,268 358,270"/>
<polygon fill="#ebbbb3" points="388,304 402,302 408,318 404,334 392,330 386,316" stroke="#ebbbb3" stroke-width="12" stroke-linejoin="round"/>
<polygon fill="#b56c5c" points="388,304 402,302 408,318 404,334 392,330 386,316" stroke="#b56c5c" stroke-width="6" stroke-linejoin="round"/>
<polygon fill="#ffffff" points="388,304 402,302 408,318 404,334 392,330 386,316"/>
<polygon fill="#ebbbb3" points="412,302 426,300 428,312 414,314" stroke="#ebbbb3" stroke-width="10" stroke-linejoin="round"/>
<polygon fill="#b56c5c" points="412,302 426,300 428,312 414,314" stroke="#b56c5c" stroke-width="5" stroke-linejoin="round"/>
<polygon fill="#ffffff" points="412,302 426,300 428,312 414,314"/>
<polygon fill="#cf9486" points="396,296 445,296 448,350 420,352 404,350 396,330"/>
<polygon fill="#fb3535" points="420,300 444,300 444,322 426,324"/>
<polygon fill="#ffffff" points="400,332 420,326 436,334 444,346 430,350 408,346"/>
<polygon fill="#ffffff" points="404,312 414,310 416,322 406,324"/>
<polygon fill="#fb3535" points="446,286 456,283 466,288 464,297 452,298" stroke="#fb3535" stroke-width="16" stroke-linejoin="round"/>
<polygon fill="#ebbbb3" points="446,286 456,283 466,288 464,297 452,298" stroke="#ebbbb3" stroke-width="10" stroke-linejoin="round"/>
<polygon fill="#b56c5c" points="446,286 456,283 466,288 464,297 452,298" stroke="#b56c5c" stroke-width="5" stroke-linejoin="round"/>
<polygon fill="#ffffff" points="446,286 456,283 466,288 464,297 452,298"/>
<polygon fill="#fb3535" points="477,293 484,292 484,298 478,298" stroke="#fb3535" stroke-width="12" stroke-linejoin="round"/>
<polygon fill="#ebbbb3" points="477,293 484,292 484,298 478,298" stroke="#ebbbb3" stroke-width="7" stroke-linejoin="round"/>
<polygon fill="#b56c5c" points="477,293 484,292 484,298 478,298" stroke="#b56c5c" stroke-width="3" stroke-linejoin="round"/>
<polygon fill="#ffffff" points="477,293 484,292 484,298 478,298"/>
<polygon fill="#ebbbb3" points="434,328 456,326 480,330 478,342 450,342 436,338" stroke="#ebbbb3" stroke-width="8" stroke-linejoin="round"/>
<polygon fill="#b56c5c" points="434,328 456,326 480,330 478,342 450,342 436,338" stroke="#b56c5c" stroke-width="4" stroke-linejoin="round"/>
<polygon fill="#ffffff" points="434,328 456,326 480,330 478,342 450,342 436,338"/>
<polygon fill="#cf9486" points="330,318 360,312 392,322 408,350 410,374 392,384 366,382 344,368 332,346"/>
<polygon fill="#b56c5c" points="338,326 352,320 372,322 384,330 396,342 404,356 400,372 388,378 372,376 360,366 348,360 340,348" stroke="#b56c5c" stroke-width="4" stroke-linejoin="round"/>
<polygon fill="#ffffff" points="338,326 352,320 372,322 384,330 396,342 404,356 400,372 388,378 372,376 360,366 348,360 340,348"/>
<polygon fill="#cf9486" points="356,336 364,334 368,346 360,350"/>
<polygon fill="#b56c5c" points="376,350 384,348 388,360 380,364"/>
<polygon fill="#fb3535" points="346,340 352,338 354,348 348,350"/>
<polygon fill="#f79a9a" points="328,380 360,374 400,382 445,374 445,412 420,420 370,420 345,402"/>
<polygon fill="#f5c9c9" points="372,388 430,384 440,404 400,412 376,406"/>
<polygon fill="#ff9933" points="320,356 330,352 346,376 366,396 378,408 360,408 340,390 326,372"/>
<polygon fill="#cf9486" points="410,384 445,378 445,420 424,420 412,404"/>
<polygon fill="#fb3535" points="420,390 440,388 442,410 426,412"/>
<polygon fill="#ebbbb3" points="447,342 480,342 488,356 484,372 480,384 490,398 498,410 488,412 476,400 470,404 466,418 452,418 448,400 447,370" stroke="#ebbbb3" stroke-width="10" stroke-linejoin="round"/>
<polygon fill="#b56c5c" points="447,342 480,342 488,356 484,372 480,384 490,398 498,410 488,412 476,400 470,404 466,418 452,418 448,400 447,370" stroke="#b56c5c" stroke-width="5" stroke-linejoin="round"/>
<polygon fill="#ffffff" points="447,342 480,342 488,356 484,372 480,384 490,398 498,410 488,412 476,400 470,404 466,418 452,418 448,400 447,370"/>
<polygon fill="#fb3535" points="508,346 516,344 528,358 534,372 526,372 516,360" stroke="#fb3535" stroke-width="14" stroke-linejoin="round"/>
<polygon fill="#ebbbb3" points="508,346 516,344 528,358 534,372 526,372 516,360" stroke="#ebbbb3" stroke-width="8" stroke-linejoin="round"/>
<polygon fill="#b56c5c" points="508,346 516,344 528,358 534,372 526,372 516,360" stroke="#b56c5c" stroke-width="4" stroke-linejoin="round"/>
<polygon fill="#ffffff" points="508,346 516,344 528,358 534,372 526,372 516,360"/>
<polygon fill="#fb3535" points="597,361 601,361 601,366 597,366" stroke="#fb3535" stroke-width="18" stroke-linejoin="round"/>
<polygon fill="#ebbbb3" points="597,361 601,361 601,366 597,366" stroke="#ebbbb3" stroke-width="12" stroke-linejoin="round"/>
<polygon fill="#b56c5c" points="597,361 601,361 601,366 597,366" stroke="#b56c5c" stroke-width="7" stroke-linejoin="round"/>
<polygon fill="#ffffff" points="597,361 601,361 601,366 597,366"/>
<polygon fill="#ebbbb3" points="541,432 549,432 549,443 541,443" stroke="#ebbbb3" stroke-width="9" stroke-linejoin="round"/>
<polygon fill="#b56c5c" points="541,432 549,432 549,443 541,443" stroke="#b56c5c" stroke-width="4" stroke-linejoin="round"/>
<polygon fill="#ffffff" points="541,432 549,432 549,443 541,443"/>
<polygon fill="#ffac55" points="256,470 270,452 284,446 300,456 320,452 340,458 362,452 382,440 445,440 445,462 487,462 487,470 520,470 566,470 566,560 580,600 590,622 560,640 530,628 518,640 502,652 486,668 470,660 456,652 442,640 430,632 416,628 402,616 392,600 390,580 386,554 370,544 350,552 330,554 310,552 298,548 286,536 272,516 262,500 256,486"/>
<polygon fill="#f79a9a" points="256,421 382,421 382,470 364,490 340,496 318,486 300,470 282,452 268,450 256,462"/>
<polygon fill="#f96868" points="310,424 382,424 382,456 360,468 336,472 320,460"/>
<polygon fill="#fb3535" points="336,430 364,428 370,444 352,452 338,446"/>
<polygon fill="#ffac55" points="300,430 316,428 320,446 306,452"/>
<polygon fill="#f5c9c9" points="322,452 340,450 344,464 328,468"/>
<polygon fill="#cf9486" points="300,424 330,422 336,436 316,442 302,436"/>
<polygon fill="#cf9486" points="340,470 360,462 372,474 362,490 344,488"/>
<polygon fill="#ff9933" points="268,432 290,428 296,446 286,470 270,462"/>
<polygon fill="#ffc070" points="258,474 280,458 300,466 310,490 300,512 280,520 266,500"/>
<polygon fill="#ff9933" points="300,500 340,500 372,506 382,520 382,544 360,548 330,550 308,546 296,524"/>
<polygon fill="#f79a9a" points="308,470 380,468 380,512 352,522 322,514 308,494"/>
<polygon fill="#f96868" points="326,478 356,474 368,490 356,506 334,506"/>
<polygon fill="#ff9933" points="384,452 432,452 434,480 430,510 420,540 384,548"/>
<polygon fill="#ffac55" points="390,470 420,466 426,500 410,530 390,526"/>
<polygon fill="#f79a9a" points="384,424 445,424 445,446 430,450 400,446 384,448"/>
<polygon fill="#ff9933" points="452,470 487,466 487,548 470,550 452,540 446,510"/>
<polygon fill="#f79a9a" points="452,462 487,460 487,480 466,486 452,478"/>
<polygon fill="#fb3535" points="440,448 487,446 487,462 444,462"/>
<polygon fill="#fb3535" points="446,451 484,450 484,457 446,458" stroke="#fb3535" stroke-width="10" stroke-linejoin="round"/>
<polygon fill="#ebbbb3" points="446,451 484,450 484,457 446,458" stroke="#ebbbb3" stroke-width="5" stroke-linejoin="round"/>
<polygon fill="#ffffff" points="446,451 484,450 484,457 446,458"/>
<polygon fill="#cf9486" points="428,452 452,452 454,480 452,510 446,530 438,546 424,546 430,520 434,490"/>
<polygon fill="#ffffff" points="439,456 446,456 448,480 444,500 440,520 436,538 431,538 436,510 438,480"/>
<polygon fill="#cf9486" points="404,514 436,510 440,540 408,546"/>
<polygon fill="#ffffff" points="414,524 424,520 428,532 418,536"/>
<polygon fill="#f79a9a" points="466,500 484,496 486,520 470,526"/>
<polygon fill="#7f600a" points="446,520 450,530 462,536 460,548 452,546 450,536 444,530"/>
<polygon fill="#f96868" points="488,448 530,448 530,480 508,490 488,486"/>
<polygon fill="#fb3535" points="498,452 524,452 522,474 502,478"/>
<polygon fill="#ff9933" points="488,498 506,494 520,500 520,524 500,526 488,520"/>
<polygon fill="#f79a9a" points="488,524 500,528 502,548 488,550"/>
<polygon fill="#f79a9a" points="530,440 552,432 552,448 560,456 562,484 570,500 574,508 560,512 556,520 544,528 540,536 548,544 544,550 532,548 524,540 512,540 504,538 500,528 512,524 520,516 524,508 520,500 506,500 508,494 524,492 528,484 520,480 520,470 532,468 540,460 536,452 528,452" stroke="#f79a9a" stroke-width="22" stroke-linejoin="round"/>
<polygon fill="#fb3535" points="530,440 552,432 552,448 560,456 562,484 570,500 574,508 560,512 556,520 544,528 540,536 548,544 544,550 532,548 524,540 512,540 504,538 500,528 512,524 520,516 524,508 520,500 506,500 508,494 524,492 528,484 520,480 520,470 532,468 540,460 536,452 528,452" stroke="#fb3535" stroke-width="14" stroke-linejoin="round"/>
<polygon fill="#ebbbb3" points="530,440 552,432 552,448 560,456 562,484 570,500 574,508 560,512 556,520 544,528 540,536 548,544 544,550 532,548 524,540 512,540 504,538 500,528 512,524 520,516 524,508 520,500 506,500 508,494 524,492 528,484 520,480 520,470 532,468 540,460 536,452 528,452" stroke="#ebbbb3" stroke-width="8" stroke-linejoin="round"/>
<polygon fill="#b56c5c" points="530,440 552,432 552,448 560,456 562,484 570,500 574,508 560,512 556,520 544,528 540,536 548,544 544,550 532,548 524,540 512,540 504,538 500,528 512,524 520,516 524,508 520,500 506,500 508,494 524,492 528,484 520,480 520,470 532,468 540,460 536,452 528,452" stroke="#b56c5c" stroke-width="3" stroke-linejoin="round"/>
<polygon fill="#ffffff" points="530,440 552,432 552,448 560,456 562,484 570,500 574,508 560,512 556,520 544,528 540,536 548,544 544,550 532,548 524,540 512,540 504,538 500,528 512,524 520,516 524,508 520,500 506,500 508,494 524,492 528,484 520,480 520,470 532,468 540,460 536,452 528,452"/>
<polygon fill="#cf9486" points="544,518 556,516 564,530 562,548 548,550 548,540 542,534"/>
<polygon fill="#ebbbb3" points="514,504 522,502 522,510 516,512"/>
<polygon fill="#f5c9c9" points="566,448 634,448 626,468 618,486 606,500 590,508 572,504 566,484"/>
<polygon fill="#ff9933" points="568,462 584,458 584,480 572,486"/>
<polygon fill="#f79a9a" points="576,486 600,484 604,500 588,506 576,500"/>
<polygon fill="#f96868" points="578,490 592,488 594,498 582,500"/>
<polygon fill="#ff9933" points="596,452 616,450 612,462 598,462"/>
<polygon fill="#f79a9a" points="596,404 640,400 648,418 628,432 600,436"/>
<polygon fill="#f96868" points="598,408 620,404 624,420 604,426"/>
<polygon fill="#ff9933" points="600,440 640,436 640,447 600,447"/>
<polygon fill="#f79a9a" points="166,421 256,421 256,470 240,470 222,452 206,448 196,460 176,462 166,440"/>
<polygon fill="#f96868" points="196,424 256,424 256,456 236,462 222,450 204,444"/>
<polygon fill="#fb3535" points="226,428 250,426 252,444 234,448"/>
<polygon fill="#cf9486" points="218,450 240,448 244,466 226,470"/>
<polygon fill="#cf9486" points="172,426 196,424 200,446 184,456 170,448"/>
<polygon fill="#ffffff" points="228,456 233,455 234,461 229,462"/>
<polygon fill="#ffc070" points="168,424 186,424 184,446 196,462 200,484 206,506 214,524 230,544 240,560 250,580 262,600 274,612 290,620 300,640 316,660 318,670 296,668 280,650 268,630 250,618 230,610 216,590 204,570 190,548 180,526 176,500 170,470 164,450"/>
<polygon fill="#ff9933" points="170,440 182,436 186,456 192,476 186,486 174,470"/>
<polygon fill="#f79a9a" points="180,470 196,466 200,486 190,494 182,486"/>
<polygon fill="#ffd68f" points="206,448 220,452 236,474 250,500 262,524 276,550 292,574 300,590 288,594 276,578 262,556 248,534 236,512 226,486 214,464"/>
<polygon fill="#f79a9a" points="222,452 244,470 256,488 266,510 278,536 290,560 300,580 296,588 284,572 270,548 258,524 246,500 234,476"/>
<polygon fill="#fb3535" points="252,498 260,496 268,510 280,538 292,562 300,580 292,588 282,572 270,546 258,516" stroke="#fb3535" stroke-width="8" stroke-linejoin="round"/>
<polygon fill="#cf9486" points="252,498 260,496 268,510 280,538 292,562 300,580 292,588 282,572 270,546 258,516" stroke="#cf9486" stroke-width="4" stroke-linejoin="round"/>
<polygon fill="#ffffff" points="252,498 260,496 268,510 280,538 292,562 300,580 292,588 282,572 270,546 258,516"/>
<polygon fill="#9f8809" points="202,448 210,444 218,456 228,480 240,510 250,528 266,546 282,564 292,580 296,598 286,608 268,606 252,594 240,574 230,558 220,542 208,524 202,506 198,484 196,462"/>
<polygon fill="#7f600a" points="214,504 224,500 234,518 244,534 238,540 228,530 218,518"/>
<polygon fill="#bfb000" points="238,548 256,552 274,570 284,588 280,600 266,598 252,584 242,566"/>
<polygon fill="#dfd800" points="256,578 272,576 282,592 276,602 262,598"/>
<polygon fill="#9f8809" points="286,586 300,580 320,588 334,600 336,616 320,624 300,618 288,604"/>
<polygon fill="#bfb000" points="292,596 312,592 326,604 318,616 300,612"/>
<polygon fill="#dfd800" points="300,622 322,626 334,634 330,646 312,644 298,634"/>
<polygon fill="#ffff00" points="288,624 304,626 310,638 298,640"/>
<polygon fill="#55d10f" points="290,628 300,630 302,638 294,638"/>
<polygon fill="#ffc070" points="314,640 330,636 336,650 334,668 320,668"/>
<polygon fill="#9f8809" points="300,640 314,644 322,668 310,668 302,654"/>
<polygon fill="#dfd800" points="296,636 306,640 312,656 318,668 312,668 304,656"/>
<polygon fill="#9f8809" points="296,548 310,552 330,554 350,552 370,544 384,550 388,580 390,600 380,606 360,600 340,600 326,586 312,570"/>
<polygon fill="#dfd800" points="330,560 352,556 372,562 380,580 372,596 352,590 338,578"/>
<polygon fill="#ffc070" points="336,586 352,584 360,596 350,604 338,598"/>
<polygon fill="#4d4d4d" points="310,556 318,558 330,578 342,598 336,602 322,584 312,568"/>
<polygon fill="#b3b3b3" points="356,552 372,548 380,558 376,574 362,570"/>
<polygon fill="#7fde0a" points="362,566 372,564 374,574 364,576"/>
<polygon fill="#ffff00" points="326,604 350,596 376,602 386,624 378,644 374,668 350,670 336,652 328,630"/>
<polygon fill="#b3b3b3" points="330,610 350,600 372,606 380,625 372,640 370,666 352,668 340,650 332,630"/>
<polygon fill="#4d4d4d" points="340,616 358,612 368,624 362,640 358,660 348,662 342,640"/>
<polygon fill="#7fde0a" points="332,626 340,628 342,640 336,640"/>
<polygon fill="#155219" points="362,656 368,656 368,664 362,664"/>
<polygon fill="#bfb000" points="386,554 398,560 400,580 404,604 414,622 430,630 444,638 458,650 472,658 487,666 487,702 444,702 372,672 374,650 380,630 388,610 388,580"/>
<polygon fill="#ffff00" points="392,604 404,612 418,628 434,636 450,648 462,660 452,668 432,654 414,644 398,630 390,616"/>
<polygon fill="#7f600a" points="420,600 428,596 436,612 440,630 430,626 424,612"/>
<polygon fill="#b3b3b3" points="372,625 400,628 430,640 446,655 450,680 440,692 420,692 395,682 372,670"/>
<polygon fill="#4d4d4d" points="385,640 410,636 432,648 436,670 420,676 400,672 386,660"/>
<polygon fill="#7fde0a" points="410,664 440,658 456,672 452,692 430,692 412,682"/>
<polygon fill="#55d10f" points="428,666 446,664 450,680 436,684"/>
<polygon fill="#a6ea05" points="408,672 420,670 424,684 412,686"/>
<polygon fill="#dfd800" points="446,650 470,660 487,672 487,702 460,702 456,680"/>
<polygon fill="#9f8809" points="462,668 487,676 487,702 470,702"/>
<polygon fill="#ffac55" points="390,556 420,553 450,553 487,553 487,610 484,640 470,634 450,626 430,612 410,602 396,586"/>
<polygon fill="#ff9933" points="400,556 440,554 470,560 484,580 470,596 450,590 430,580 408,572"/>
<polygon fill="#f5c9c9" points="400,580 420,576 440,590 462,610 480,628 484,644 470,640 452,624 432,608 412,598"/>
<polygon fill="#f79a9a" points="408,584 424,582 442,598 462,618 478,634 470,636 452,620 434,606 416,596"/>
<polygon fill="#f96868" points="424,590 432,590 440,602 434,604"/>
<polygon fill="#f96868" points="466,626 476,628 480,640 470,638"/>
<polygon fill="#ffd68f" points="396,600 410,604 420,620 436,632 430,636 414,626 400,612"/>
<polygon fill="#ffff00" points="362,556 382,552 386,572 376,580 364,572"/>
<polygon fill="#b3b3b3" points="364,554 380,552 382,566 370,570"/>
<polygon fill="#ff9933" points="489,553 520,553 540,556 540,600 520,610 500,600 489,590"/>
<polygon fill="#f79a9a" points="489,596 510,588 530,596 534,630 524,650 506,656 492,650 489,630"/>
<polygon fill="#f5c9c9" points="492,600 508,594 516,606 504,614 492,612"/>
<polygon fill="#f96868" points="500,616 512,612 518,628 510,640 500,634"/>
<polygon fill="#f5c9c9" points="530,600 560,596 580,604 576,624 552,628 534,620"/>
<polygon fill="#f79a9a" points="543,554 552,553 556,566 552,580 546,578 543,566" stroke="#f79a9a" stroke-width="20" stroke-linejoin="round"/>
<polygon fill="#fb3535" points="543,554 552,553 556,566 552,580 546,578 543,566" stroke="#fb3535" stroke-width="12" stroke-linejoin="round"/>
<polygon fill="#ebbbb3" points="543,554 552,553 556,566 552,580 546,578 543,566" stroke="#ebbbb3" stroke-width="6" stroke-linejoin="round"/>
<polygon fill="#ffffff" points="543,554 552,553 556,566 552,580 546,578 543,566"/>
<polygon fill="#f79a9a" points="560,554 568,554 570,572 566,586 560,584 560,566" stroke="#f79a9a" stroke-width="20" stroke-linejoin="round"/>
<polygon fill="#fb3535" points="560,554 568,554 570,572 566,586 560,584 560,566" stroke="#fb3535" stroke-width="12" stroke-linejoin="round"/>
<polygon fill="#ebbbb3" points="560,554 568,554 570,572 566,586 560,584 560,566" stroke="#ebbbb3" stroke-width="6" stroke-linejoin="round"/>
<polygon fill="#ffffff" points="560,554 568,554 570,572 566,586 560,584 560,566"/>
<polygon fill="#7f600a" points="489,664 502,652 518,640 530,628 542,624 554,636 570,628 586,616 600,620 614,622 614,690 540,690 540,702 489,702"/>
<polygon fill="#9f8809" points="489,680 510,666 530,656 548,660 566,652 586,644 612,648 612,690 540,690 540,702 489,702"/>
<polygon fill="#dfd800" points="540,672 560,668 590,664 612,666 612,688 540,688"/>
<polygon fill="#ffff00" points="556,676 590,672 612,676 612,686 560,686"/>
<polygon fill="#ffc070" points="560,600 568,598 574,620 576,640 568,650 562,630"/>
<polygon fill="#f79a9a" points="562,610 568,608 572,630 566,640"/>
<polygon fill="#ffd68f" points="540,630 552,634 556,654 546,660 538,648"/>
<polygon fill="#ffd68f" points="489,660 500,650 504,664 494,676"/>
<polygon fill="#dfd800" points="584,690 600,690 606,712 600,736 588,736 580,716"/>
<polygon fill="#bfb000" points="586,700 596,698 600,716 592,728 584,718"/>
</g>
<polygon filter="url(#sb)" fill="#fb3535" points="208,238 258,238 260,262 252,290 238,314 222,314 214,296 210,270"/>
<polygon filter="url(#sf)" fill="#b56c5c" points="208,238 258,238 260,262 252,290 238,314 222,314 214,296 210,270"/>
<polygon filter="url(#sd)" fill="#ffffff" points="208,238 258,238 260,262 252,290 238,314 222,314 214,296 210,270"/>
<polygon filter="url(#sb)" fill="#9b4432" points="158,252 196,256 200,275 196,300 176,306 166,290 160,270"/>
<polygon filter="url(#sg)" fill="#ebbbb3" points="158,252 196,256 200,275 196,300 176,306 166,290 160,270"/>
<polygon filter="url(#sf)" fill="#f96868" points="164,300 206,300 206,419 162,419"/>
<polygon filter="url(#sd)" fill="#f5c9c9" points="164,300 206,300 206,419 162,419"/>
<polygon filter="url(#se)" fill="#cf9486" points="164,300 206,300 206,419 162,419"/>
<polygon filter="url(#sc)" fill="#9b4432" points="204,324 228,324 228,420 204,420"/>
<polygon filter="url(#se)" fill="#ffffff" points="204,324 228,324 228,420 204,420"/>
<polygon filter="url(#se)" fill="#fb3535" points="204,324 228,324 228,420 204,420"/>
<polygon filter="url(#sc)" fill="#b56c5c" points="228,324 319,322 319,400 228,400"/>
<polygon filter="url(#sg)" fill="#ebbbb3" points="228,324 319,322 319,400 228,400"/>
<polygon filter="url(#sj)" fill="#f79a9a" points="228,324 319,322 319,400 228,400"/>
<polygon filter="url(#se)" fill="#ffffff" points="280,324 319,324 319,350 280,350"/>
<polygon filter="url(#sc)" fill="#fb3535" points="228,380 319,380 319,420 228,420"/>
<polygon filter="url(#sg)" fill="#f5c9c9" points="228,380 319,380 319,420 228,420"/>
<polygon filter="url(#se)" fill="#ff9933" points="228,380 319,380 319,420 228,420"/>
<polygon filter="url(#sd)" fill="#f96868" points="258,262 319,262 319,314 258,314"/>
<polygon filter="url(#se)" fill="#ff9933" points="258,262 319,262 319,314 258,314"/>
<polygon filter="url(#sb)" fill="#cf9486" points="258,238 345,238 360,290 384,322 340,328 319,314 319,264 262,262"/>
<polygon filter="url(#sg)" fill="#f79a9a" points="258,238 345,238 360,290 384,322 340,328 319,314 319,264 262,262"/>
<polygon filter="url(#se)" fill="#ffffff" points="258,238 345,238 360,290 384,322 340,328 319,314 319,264 262,262"/>
<polygon filter="url(#sh)" fill="#9b4432" points="258,238 345,238 360,290 384,322 340,328 319,314 319,264 262,262"/>
<polygon filter="url(#sc)" fill="#cf9486" points="330,318 360,312 392,322 408,350 410,374 392,384 366,382 344,368 332,346"/>
<polygon filter="url(#se)" fill="#fb3535" points="330,318 360,312 392,322 408,350 410,374 392,384 366,382 344,368 332,346"/>
<polygon filter="url(#sg)" fill="#ffffff" points="330,318 360,312 392,322 408,350 410,374 392,384 366,382 344,368 332,346"/>
<polygon filter="url(#sc)" fill="#fb3535" points="340,238 420,238 432,270 448,296 448,352 404,352 396,296 376,296 360,288 345,272"/>
<polygon filter="url(#sj)" fill="#b56c5c" points="340,238 420,238 432,270 448,296 448,352 404,352 396,296 376,296 360,288 345,272"/>
<polygon filter="url(#se)" fill="#ffffff" points="340,238 420,238 432,270 448,296 448,352 404,352 396,296 376,296 360,288 345,272"/>
<polygon filter="url(#se)" fill="#fb3535" points="445,342 594,342 594,446 445,446"/>
<polygon filter="url(#sg)" fill="#f79a9a" points="445,342 594,342 594,446 445,446"/>
<polygon filter="url(#sc)" fill="#cf9486" points="445,398 594,396 594,446 445,446"/>
<polygon filter="url(#sf)" fill="#f96868" points="445,398 594,396 594,446 445,446"/>
<polygon filter="url(#sd)" fill="#f96868" points="328,376 445,372 445,420 345,420"/>
<polygon filter="url(#se)" fill="#fb3535" points="328,376 445,372 445,420 345,420"/>
<polygon filter="url(#sd)" fill="#fb3535" points="256,421 382,421 382,500 330,504 300,480 256,470"/>
<polygon filter="url(#se)" fill="#cf9486" points="256,421 382,421 382,500 330,504 300,480 256,470"/>
<polygon filter="url(#sc)" fill="#ffac55" points="256,421 382,421 382,500 330,504 300,480 256,470"/>
<polygon filter="url(#sg)" fill="#f5c9c9" points="256,421 382,421 382,500 330,504 300,480 256,470"/>
<polygon filter="url(#sc)" fill="#fb3535" points="166,421 256,421 256,470 222,452 196,462 170,450"/>
<polygon filter="url(#sg)" fill="#cf9486" points="166,421 256,421 256,470 222,452 196,462 170,450"/>
<polygon filter="url(#sd)" fill="#ffac55" points="166,421 256,421 256,470 222,452 196,462 170,450"/>
<polygon filter="url(#se)" fill="#f5c9c9" points="166,421 256,421 256,470 222,452 196,462 170,450"/>
<polygon filter="url(#sc)" fill="#f79a9a" points="286,470 382,470 382,548 300,548"/>
<polygon filter="url(#se)" fill="#f96868" points="286,470 382,470 382,548 300,548"/>
<polygon filter="url(#sg)" fill="#ffc070" points="286,470 382,470 382,548 300,548"/>
<polygon filter="url(#sd)" fill="#f79a9a" points="166,450 200,462 236,560 300,640 318,670 290,668 216,590 176,500"/>
<polygon filter="url(#sg)" fill="#ff9933" points="166,450 200,462 236,560 300,640 318,670 290,668 216,590 176,500"/>
<polygon filter="url(#se)" fill="#ffd68f" points="166,450 200,462 236,560 300,640 318,670 290,668 216,590 176,500"/>
<polygon filter="url(#se)" fill="#f79a9a" points="384,424 487,424 487,552 384,552"/>
<polygon filter="url(#sg)" fill="#ffc070" points="384,424 487,424 487,552 384,552"/>
<polygon filter="url(#sc)" fill="#b56c5c" points="424,450 456,450 456,548 404,548 404,512 430,510"/>
<polygon filter="url(#se)" fill="#ffffff" points="424,450 456,450 456,548 404,548 404,512 430,510"/>
<polygon filter="url(#sd)" fill="#f79a9a" points="488,446 566,446 566,552 488,552"/>
<polygon filter="url(#se)" fill="#fb3535" points="488,446 566,446 566,552 488,552"/>
<polygon filter="url(#sh)" fill="#cf9486" points="488,446 566,446 566,552 488,552"/>
<polygon filter="url(#sd)" fill="#cf9486" points="530,440 552,432 552,448 560,456 562,484 570,500 574,508 560,512 556,520 544,528 540,536 548,544 544,550 532,548 524,540 512,540 504,538 500,528 512,524 520,516 524,508 520,500 506,500 508,494 524,492 528,484 520,480 520,470 532,468 540,460 536,452 528,452"/>
<polygon filter="url(#sh)" fill="#fb3535" points="530,440 552,432 552,448 560,456 562,484 570,500 574,508 560,512 556,520 544,528 540,536 548,544 544,550 532,548 524,540 512,540 504,538 500,528 512,524 520,516 524,508 520,500 506,500 508,494 524,492 528,484 520,480 520,470 532,468 540,460 536,452 528,452"/>
<polygon filter="url(#sc)" fill="#f79a9a" points="489,590 520,580 540,560 580,556 592,600 580,630 556,640 530,650 489,660"/>
<polygon filter="url(#sg)" fill="#f5c9c9" points="489,590 520,580 540,560 580,556 592,600 580,630 556,640 530,650 489,660"/>
<polygon filter="url(#se)" fill="#f96868" points="489,590 520,580 540,560 580,556 592,600 580,630 556,640 530,650 489,660"/>
<polygon filter="url(#se)" fill="#f79a9a" points="489,553 540,553 540,580 520,590 489,596"/>
<polygon filter="url(#sg)" fill="#ffac55" points="489,553 540,553 540,580 520,590 489,596"/>
<polygon filter="url(#sd)" fill="#f5c9c9" points="396,570 440,580 487,620 487,660 440,640 400,612"/>
<polygon filter="url(#se)" fill="#f79a9a" points="396,570 440,580 487,620 487,660 440,640 400,612"/>
<polygon filter="url(#sg)" fill="#ffc070" points="386,553 487,553 487,620 440,584 396,572"/>
<polygon filter="url(#se)" fill="#f5c9c9" points="386,553 487,553 487,620 440,584 396,572"/>
<polygon filter="url(#sd)" fill="#9f8809" points="296,552 330,560 360,552 388,560 396,600 410,622 440,640 470,660 487,670 487,702 444,702 372,672 318,670 300,630 290,600"/>
<polygon filter="url(#se)" fill="#ffff00" points="296,552 330,560 360,552 388,560 396,600 410,622 440,640 470,660 487,670 487,702 444,702 372,672 318,670 300,630 290,600"/>
<polygon filter="url(#se)" fill="#ffd68f" points="290,590 340,560 400,640 318,670 296,620"/>
<polygon filter="url(#sc)" fill="#bfb000" points="489,664 502,652 518,640 530,628 542,624 554,636 570,628 586,616 614,622 614,702 489,702"/>
<polygon filter="url(#se)" fill="#ffd68f" points="489,664 502,652 518,640 530,628 542,624 554,636 570,628 586,616 614,622 614,702 489,702"/>
<polygon filter="url(#sc)" fill="#ff9933" points="1006,608 1060,564 1104,520 1140,478 1152,494 1112,546 1056,590 1010,618"/>
<polygon filter="url(#sg)" fill="#ffd68f" points="1006,608 1060,564 1104,520 1140,478 1152,494 1112,546 1056,590 1010,618"/>
<polygon filter="url(#se)" fill="#f5c9c9" points="1100,400 1240,400 1240,470 1100,470"/>
<polygon filter="url(#sg)" fill="#ffac55" points="1100,400 1240,400 1240,470 1100,470"/>
<polygon filter="url(#sc)" fill="#f96868" points="1240,336 1290,320 1290,400 1240,400"/>
<polygon filter="url(#se)" fill="#fb3535" points="1240,336 1290,320 1290,400 1240,400"/>
<polygon filter="url(#sf)" fill="#f96868" points="1290,262 1390,262 1390,400 1290,400"/>
<polygon filter="url(#se)" fill="#f79a9a" points="1290,262 1390,262 1390,400 1290,400"/>
<polygon filter="url(#sh)" fill="#ebbbb3" points="1290,270 1340,270 1340,360 1290,370"/>
<g filter="url(#rough)" shape-rendering="crispEdges">
<polygon fill="#ffffff" points="448,343 478,343 486,356 484,370 478,384 486,396 492,406 486,408 476,398 468,402 462,414 454,414 450,398 448,370"/>
<polygon fill="#ffffff" points="509,347 516,345 527,358 532,370 527,371 517,360"/>
<polygon fill="#ffffff" points="388,306 400,304 406,318 402,330 394,328 388,316"/>
<polygon fill="#ffffff" points="346,334 354,328 368,330 378,338 386,348 388,358 380,364 370,362 360,356 350,350"/>
<polygon fill="#ffffff" points="448,287 456,285 464,289 462,295 452,296"/>
<polygon fill="#ffffff" points="438,330 456,328 476,332 474,340 452,340 440,337"/>
<polygon fill="#ffffff" points="532,444 550,436 550,450 558,458 560,484 566,498 568,506 558,508 552,518 542,524 536,534 544,544 536,546 526,538 514,538 506,534 504,528 514,522 522,514 526,506 522,498 510,498 512,494 526,490 530,482 524,478 524,470 534,466 542,458 538,452"/>
<polygon fill="#cf9486" points="546,520 556,518 562,532 560,546 550,548 550,540 544,534"/>
<polygon fill="#ffffff" points="254,500 259,498 266,511 278,538 290,562 297,580 293,585 283,570 271,545 260,516"/>
<polygon fill="#ffffff" points="440,458 445,458 447,480 443,500 440,516 436,532 433,532 437,510 439,480"/>
<polygon fill="#ffffff" points="447,452 483,451 483,456 447,457"/>
<polygon fill="#ffffff" points="544,556 551,555 554,566 551,578 547,576 544,566"/>
<polygon fill="#ffffff" points="561,556 567,556 568,572 565,584 561,582 561,566"/>
<polygon fill="#b3b3b3" points="332,612 350,602 370,608 378,625 371,640 368,664 353,666 342,650 334,630"/>
<polygon fill="#4d4d4d" points="342,618 357,614 366,625 360,640 357,658 349,660 344,640"/>
<polygon fill="#b3b3b3" points="374,627 400,630 428,642 444,656 448,678 440,690 420,690 396,680 374,668"/>
<polygon fill="#4d4d4d" points="386,642 409,638 430,650 434,668 420,674 401,670 388,660"/>
<polygon fill="#4d4d4d" points="311,557 317,559 329,578 340,597 336,600 323,584 313,568"/>
<polygon fill="#7fde0a" points="414,668 438,662 452,674 448,690 430,690 416,682"/>
<polygon fill="#55d10f" points="430,668 444,666 448,680 436,684"/>
<polygon fill="#dfd800" points="392,608 402,614 416,630 432,638 448,650 456,658 452,662 432,650 414,640 398,626 391,616"/>
</g>
</g>
<!-- Outer Banks --><polygon fill="#ffff00" points="1183,586 1196,584 1197,596 1190,604 1178,612 1176,606 1184,598"/><polygon fill="#dfd800" points="1186,566 1194,564 1197,584 1184,586"/><polygon fill="#bfb000" points="1186,552 1192,552 1194,564 1186,566"/>
<!-- Keys --><path d="M1037,879 L1050,880 L1064,878 L1076,875 L1085,870 L1092,862" fill="none" stroke="#aaf5e0" stroke-width="2.5" stroke-dasharray="5 4"/>
<!-- Isle Royale --><polygon fill="#9b4432" points="906,265 912,260 921,257 922,260 915,264 908,267"/><polygon fill="#cf9486" points="870,290 874,287 875,292 871,294"/>
<g fill="none" stroke="#000" stroke-width="3.5" stroke-linejoin="round" stroke-linecap="round">
<path d="M198.5,235.5 L780.2,235.5 L780.2,225.5 L787.0,226.8 L789.7,236.8 L790.8,242.1 L799.2,244.5 L807.6,245.3 L817.1,246.0 L826.6,245.5 L832.9,248.7 L839.2,254.0 L846.6,253.2 L856.1,259.2 L863.4,259.2 L870.8,255.5 L880.3,259.2 L888.7,259.2 L897.2,261.9 L899.5,261.6 L890.8,265.8 L880.3,269.0 L869.8,275.0 L861.3,281.6 L852.9,288.2 L845.5,294.0 L844.5,295.6 L848.7,296.7 L857.1,294.8 L863.4,291.9 L870.8,289.5 L872.9,291.4 L870.8,297.5 L869.8,299.3 L876.1,299.3 L879.9,299.8 L888.7,296.7 L897.2,292.7 L905.6,292.2 L911.9,288.2 L918.2,282.4 L926.7,277.2 L935.1,275.8 L936.8,277.7 L930.9,281.6 L925.6,285.6 L922.4,289.5 L921.0,294.3 L926.7,290.1 L933.0,290.9 L939.3,293.5 L943.9,300.9 L951.9,301.4 L960.4,303.3 L966.7,297.5 L975.1,296.7 L983.5,296.7 L993.0,294.3 L995.1,301.4 L1002.5,302.2 L1007.8,301.4 L1012.6,306.7 L1013.0,309.3 L1017.3,313.3 L1023.6,312.0 L1026.7,315.1 L1017.3,315.9 L1007.8,315.4 L1000.4,317.8 L994.1,313.3 L983.5,312.5 L975.1,315.9 L966.7,317.2 L961.4,324.6 L957.2,322.0 L951.9,319.9 L950.9,322.5 L945.6,327.8 L939.3,338.3 L936.1,342.3 L930.9,351.5 L931.9,353.4 L936.1,350.2 L943.5,343.6 L949.8,334.4 L952.6,333.1 L950.9,338.3 L945.6,346.2 L941.4,355.5 L940.4,363.4 L937.2,373.9 L933.0,385.8 L933.4,393.7 L935.5,401.6 L935.1,407.1 L937.2,417.4 L939.3,424.0 L942.5,429.3 L947.7,430.1 L954.0,427.2 L955.7,426.4 L961.4,418.7 L966.7,409.5 L968.8,399.0 L966.7,388.4 L962.5,377.9 L963.5,367.3 L967.7,356.8 L968.8,348.9 L972.0,343.6 L977.2,341.0 L981.4,336.2 L982.5,346.2 L984.6,341.0 L986.7,333.6 L994.1,331.2 L992.0,325.1 L995.1,321.2 L999.8,320.4 L1006.7,323.8 L1013.0,327.8 L1023.6,331.7 L1028.8,339.6 L1029.9,348.9 L1028.8,359.4 L1023.6,366.0 L1017.3,371.3 L1016.2,376.6 L1023.6,377.9 L1029.9,368.6 L1037.3,365.5 L1043.6,371.3 L1046.8,383.1 L1048.4,393.7 L1046.8,402.9 L1040.4,404.2 L1038.3,409.5 L1034.1,413.5 L1032.0,420.1 L1026.7,427.2 L1036.2,430.6 L1041.5,433.2 L1046.8,435.9 L1057.3,433.2 L1063.6,433.2 L1073.1,426.6 L1088.5,420.6 L1097.3,416.1 L1104.5,412.9 L1114.2,406.9 L1119.4,401.6 L1123.2,397.6 L1119.9,391.1 L1119.2,386.8 L1131.0,383.9 L1145.8,385.0 L1156.3,386.6 L1166.9,385.3 L1175.3,380.0 L1179.5,377.9 L1179.5,370.0 L1176.3,364.7 L1185.8,356.8 L1198.5,345.4 L1210.1,341.0 L1278.5,340.7 L1280.6,335.2 L1287.0,333.1 L1292.2,334.4 L1293.3,329.9 L1301.7,321.2 L1304.9,315.9 L1303.8,309.3 L1309.1,303.5 L1310.1,296.1 L1326.6,276.1 L1330.1,280.3 L1333.3,283.5 L1346.0,278.7 L1356.5,286.4 L1356.9,316.4 L1357.5,321.2 L1363.9,325.1 L1363.9,333.6 L1368.1,336.2 L1373.3,343.6 L1374.0,346.2 L1367.0,351.0 L1356.5,354.1 L1350.2,357.3 L1343.8,360.7 L1335.4,355.5 L1332.3,362.1 L1329.1,367.3 L1320.7,371.3 L1313.3,373.9 L1305.9,377.3 L1301.7,384.5 L1297.5,389.7 L1295.0,391.8 L1292.9,397.1 L1296.4,402.9 L1291.2,406.9 L1288.6,411.4 L1294.3,414.0 L1296.4,420.1 L1299.6,425.9 L1308.0,426.1 L1310.1,424.0 L1308.0,418.7 L1305.9,418.2 L1310.8,421.4 L1311.2,428.5 L1301.7,430.1 L1296.4,432.4 L1295.4,427.4 L1290.1,431.9 L1286.5,433.2 L1283.8,429.3 L1281.1,426.6 L1280.2,433.2 L1278.5,436.7 L1270.9,438.0 L1261.7,439.0 L1249.0,439.8 L1242.7,442.5 L1233.2,446.4 L1230.1,451.2 L1238.5,448.5 L1253.2,447.2 L1261.7,443.3 L1259.6,446.9 L1270.1,444.8 L1257.5,451.2 L1240.6,456.2 L1226.9,457.8 L1224.8,455.6 L1221.6,457.0 L1220.4,459.9 L1225.9,460.9 L1225.9,467.5 L1223.7,478.1 L1218.5,487.3 L1211.1,495.2 L1205.8,501.0 L1205.8,494.7 L1198.5,491.2 L1193.6,484.6 L1194.2,480.7 L1195.9,478.1 L1193.2,483.3 L1194.2,489.9 L1197.4,496.5 L1201.6,503.1 L1203.7,507.1 L1203.7,513.7 L1199.5,522.9 L1196.4,528.2 L1190.0,540.0 L1184.8,548.7 L1183.3,544.0 L1185.8,536.1 L1190.0,528.2 L1186.9,526.3 L1185.8,520.2 L1179.5,516.3 L1177.4,507.1 L1180.6,500.5 L1179.5,492.6 L1183.7,487.3 L1181.6,484.6 L1175.3,491.2 L1173.2,495.2 L1174.2,501.8 L1172.1,509.7 L1175.3,517.6 L1176.8,524.2 L1171.1,520.2 L1163.7,517.6 L1161.6,513.7 L1156.3,515.0 L1159.5,508.4 L1161.8,504.4 L1158.4,509.7 L1155.3,516.3 L1162.6,517.6 L1169.0,521.6 L1177.4,527.6 L1177.4,536.1 L1171.1,532.1 L1176.3,541.3 L1173.2,545.3 L1177.4,551.9 L1171.1,549.2 L1175.3,554.5 L1183.7,554.0 L1186.5,563.7 L1184.8,571.7 L1181.6,574.3 L1173.2,576.9 L1169.0,578.2 L1177.4,579.6 L1185.8,580.9 L1189.0,587.5 L1183.7,594.1 L1173.2,594.1 L1170.0,596.7 L1175.3,600.7 L1166.9,604.6 L1173.2,605.9 L1176.3,608.6 L1172.1,613.8 L1160.5,613.8 L1152.1,620.4 L1144.7,628.3 L1142.6,634.4 L1130.0,634.7 L1122.6,640.2 L1117.3,649.4 L1113.1,656.0 L1105.8,661.3 L1101.5,665.2 L1093.1,670.5 L1086.8,675.8 L1080.9,682.7 L1076.3,690.3 L1073.1,699.5 L1069.9,707.4 L1068.9,717.7 L1069.9,727.2 L1072.5,740.4 L1077.3,754.9 L1082.6,766.8 L1087.4,777.3 L1086.8,786.5 L1091.0,798.4 L1095.2,810.3 L1098.6,820.8 L1097.7,834.0 L1096.7,847.2 L1093.1,857.7 L1090.0,863.0 L1080.5,864.6 L1076.3,864.3 L1074.1,855.1 L1063.6,844.5 L1061.1,834.0 L1056.2,826.1 L1052.0,820.8 L1047.8,812.9 L1042.5,802.3 L1045.7,797.1 L1047.8,791.8 L1042.5,795.8 L1039.4,789.2 L1042.5,777.3 L1043.6,765.4 L1039.4,760.2 L1034.1,757.5 L1027.8,747.0 L1021.5,737.8 L1013.0,733.8 L1006.7,737.8 L996.2,744.3 L987.8,744.9 L985.7,740.4 L979.3,733.3 L968.8,727.2 L956.2,725.9 L945.6,727.7 L941.0,729.1 L933.0,729.8 L934.0,723.3 L930.9,718.5 L928.3,725.9 L922.4,726.7 L911.9,725.9 L902.4,728.5 L897.2,731.7 L892.9,733.8 L896.1,739.1 L902.4,740.4 L899.3,747.0 L895.1,750.9 L903.5,754.9 L907.7,758.8 L905.6,762.8 L901.4,764.1 L899.3,756.2 L890.8,754.9 L886.6,758.8 L880.3,760.7 L869.8,761.5 L861.3,756.2 L852.9,748.3 L844.5,747.0 L834.0,747.5 L821.3,742.5 L807.6,744.3 L796.0,748.3 L788.7,753.6 L785.5,744.3 L783.4,750.9 L779.2,762.8 L766.5,770.7 L756.0,777.3 L749.7,774.7 L745.5,783.9 L739.1,789.2 L733.9,794.4 L734.9,802.3 L731.8,810.3 L730.7,818.2 L733.9,831.3 L738.1,842.9 L728.6,845.1 L716.0,840.0 L703.3,832.7 L697.0,830.0 L693.8,819.5 L689.2,807.6 L688.1,799.7 L681.2,794.4 L671.7,781.3 L667.5,772.0 L663.9,760.2 L657.0,753.0 L648.5,742.5 L635.9,741.7 L628.5,739.6 L621.8,743.3 L618.0,754.9 L611.7,763.3 L602.2,758.8 L593.8,754.4 L583.2,745.7 L579.0,733.8 L573.1,719.3 L560.0,708.0 L547.4,697.7 L540.4,689.5 L505.0,689.5 L505.0,701.4 L444.8,701.4 L366.0,670.5 L367.9,664.7 L317.1,669.7 L313.9,661.3 L312.5,652.1 L305.1,645.5 L296.7,638.9 L290.3,637.6 L288.2,630.4 L279.8,629.9 L272.4,627.0 L263.0,620.4 L246.7,619.1 L242.9,615.7 L243.4,602.0 L237.7,594.1 L229.2,586.9 L216.6,570.3 L215.5,562.4 L218.7,557.2 L213.4,552.9 L206.1,546.6 L203.5,537.4 L204.0,530.8 L194.5,524.7 L193.4,517.6 L185.0,509.7 L178.3,500.5 L176.1,488.6 L175.5,478.1 L170.2,470.1 L163.9,461.2 L169.2,450.4 L170.2,438.5 L168.1,426.6 L167.9,420.1 L163.9,409.5 L160.8,397.9 L163.9,385.8 L168.1,377.9 L169.8,367.3 L170.9,351.5 L172.4,341.0 L173.4,327.8 L173.0,317.2 L173.4,309.3 L172.4,308.0 L171.3,305.4 L171.3,297.5 L174.5,296.1 L170.2,291.4 L168.1,283.0 L163.9,272.4 L158.7,263.2 L157.0,256.6 L157.0,251.8 L166.0,255.3 L176.6,257.6 L189.2,258.7 L197.6,258.7 L200.8,264.5 L194.5,272.4 L191.3,278.2 L195.5,277.7 L199.7,268.5 L202.9,273.7 L198.7,281.6 L193.4,285.1 L201.9,284.3 L207.1,280.3 L206.1,272.4 L208.2,263.2 L204.0,254.0 L205.0,246.0 L201.9,239.5 L198.5,235.5Z"/>
<path d="M319.0,235.5 L319.0,303.3 L321.5,310.1 L321.5,314.6"/>
<path d="M172.4,308.0 L182.9,307.7 L189.2,310.6 L195.5,312.0 L197.6,318.0 L198.7,323.8 L208.2,326.5 L218.7,322.5 L231.3,325.1 L246.1,322.5 L265.1,316.7 L277.7,316.4 L278.1,314.6 L321.5,314.6"/>
<path d="M321.5,314.6 L326.2,319.9 L330.4,327.8 L326.2,335.7 L323.0,343.6 L315.6,356.8 L319.8,360.7 L321.5,363.4 L319.2,371.8 L319.2,420.1"/>
<path d="M339.9,235.5 L339.9,262.4 L347.2,275.0 L362.0,288.2 L375.7,297.5 L376.7,310.6 L372.5,325.9 L384.1,323.8 L393.6,341.0 L402.0,347.6 L407.3,357.3 L418.9,353.6 L435.7,351.0 L445.2,354.7"/>
<path d="M167.9,420.1 L445.2,420.1"/>
<path d="M256.6,420.1 L256.6,499.1 L369.8,604.6"/>
<path d="M382.2,420.1 L382.2,573.2 L376.7,576.9 L368.3,576.1 L367.3,580.9 L369.4,590.1 L369.8,604.6"/>
<path d="M369.8,604.6 L373.6,616.5 L379.9,623.6 L374.2,629.7 L371.9,640.2 L367.9,649.4 L372.5,658.7 L367.9,664.7"/>
<path d="M382.2,551.9 L614.8,551.9"/>
<path d="M614.8,551.9 L791.4,551.9"/>
<path d="M487.3,446.4 L487.3,701.4"/>
<path d="M445.2,341.0 L445.2,446.4"/>
<path d="M445.2,354.7 L445.2,341.0"/>
<path d="M445.2,446.4 L634.8,446.4"/>
<path d="M445.2,341.0 L592.7,341.0"/>
<path d="M592.7,235.5 L592.7,446.4"/>
<path d="M592.7,316.2 L750.5,316.2"/>
<path d="M750.5,316.2 L749.7,306.7 L745.5,297.5 L745.5,288.2 L744.4,275.0 L739.1,263.2 L738.1,248.7 L736.4,235.5"/>
<path d="M750.5,316.2 L744.4,323.8 L752.8,333.1 L752.8,380.5"/>
<path d="M592.7,393.7 L709.6,393.7 L720.2,399.8 L732.8,397.1 L743.3,401.1 L749.7,406.9 L752.8,407.1"/>
<path d="M752.8,380.5 L749.7,391.1 L752.8,407.1"/>
<path d="M752.8,407.1 L754.9,414.8 L760.2,428.0 L764.4,438.5 L765.5,453.0 L770.7,463.6 L776.9,472.8 L781.3,476.2 L785.5,479.4 L781.3,484.6 L785.5,490.4 L791.4,496.0 L791.4,565.1"/>
<path d="M634.8,446.4 L634.8,551.9"/>
<path d="M634.8,472.8 L776.9,472.8"/>
<path d="M752.8,380.5 L863.0,380.5"/>
<path d="M767.2,457.5 L852.3,456.7 L858.8,462.8"/>
<path d="M614.8,551.9 L614.8,565.1 L678.0,565.1 L678.0,616.2 L684.4,621.0 L694.9,623.1 L707.5,627.0 L718.1,627.5 L726.5,632.3 L737.0,637.6 L745.5,634.9 L756.0,637.6 L766.5,634.4 L777.1,634.1 L785.5,637.6 L794.3,640.5"/>
<path d="M614.8,565.1 L613.6,683.7 L538.5,683.7 L540.4,689.5"/>
<path d="M791.4,565.1 L795.4,594.3 L794.3,640.5"/>
<path d="M794.3,640.5 L803.6,642.8 L803.6,684.0 L808.7,694.3 L813.9,705.3 L810.4,720.6 L810.8,733.8 L807.6,744.3"/>
<path d="M803.6,656.8 L864.1,657.3"/>
<path d="M791.4,565.1 L885.6,565.1 L880.9,578.2 L895.1,578.2"/>
<path d="M844.5,295.6 L840.3,297.5 L840.3,312.5 L828.7,321.2 L830.8,333.1 L829.7,347.6 L840.3,354.1 L848.7,359.4 L859.2,368.6 L862.4,377.9 L863.0,380.5 L864.5,391.1 L865.6,400.3 L874.0,404.2 L875.2,406.6 L880.3,413.5 L885.6,422.7 L882.4,429.3 L869.8,435.1 L865.6,441.1 L866.6,450.4 L858.8,462.8 L857.1,472.8 L861.3,482.0 L868.7,488.6 L874.0,496.5 L876.1,502.3 L884.9,503.6 L884.9,509.7 L881.4,518.9 L889.8,526.8 L899.3,536.1 L900.3,544.0 L906.6,551.9"/>
<path d="M906.6,551.9 L903.5,559.8 L899.3,565.1 L898.2,571.7 L895.1,578.2 L895.1,583.5 L887.7,594.1 L885.6,602.0 L882.4,604.6 L877.1,615.2 L869.8,625.7 L865.6,636.2 L863.4,646.8 L864.1,657.3 L866.6,667.9 L868.7,675.8 L863.4,686.3 L857.1,696.9 L854.4,710.1"/>
<path d="M854.4,710.1 L894.4,710.1 L892.5,719.3 L897.2,731.7"/>
<path d="M875.2,406.6 L935.1,407.1"/>
<path d="M879.9,299.8 L886.6,305.4 L907.7,311.2 L915.1,314.1 L928.8,316.7 L934.0,321.2 L935.1,331.7 L939.3,338.3"/>
<path d="M940.8,428.0 L940.8,489.9 L938.9,496.5 L941.4,505.7 L936.1,515.0 L931.9,520.2 L929.8,530.8"/>
<path d="M906.6,551.9 L911.9,546.6 L920.3,550.0 L921.4,541.3 L929.8,530.8 L939.3,526.8 L949.8,530.8 L956.2,526.0 L962.5,527.6 L966.7,521.6 L975.1,525.5 L978.3,518.4 L985.7,507.1 L997.2,504.4 L997.9,496.5 L1004.6,496.5 L1010.9,504.4 L1021.5,508.9 L1032.0,509.2 L1039.4,506.3 L1044.7,514.4"/>
<path d="M997.9,496.5 L997.9,428.0"/>
<path d="M955.7,426.4 L997.9,426.4 L997.9,428.0 L1026.7,427.2"/>
<path d="M1044.7,514.4 L1051.0,509.7 L1053.1,504.4 L1059.4,501.8 L1062.6,493.9 L1069.9,489.9 L1078.4,484.6 L1081.5,479.4 L1085.7,467.5 L1085.7,458.3 L1088.5,455.9"/>
<path d="M1088.5,420.6 L1088.5,480.2"/>
<path d="M1088.5,480.2 L1188.1,480.2 L1192.1,477.3 L1195.9,478.1"/>
<path d="M1104.5,412.9 L1104.5,420.1 L1197.4,420.1"/>
<path d="M1197.4,420.1 L1203.7,426.6 L1211.1,436.9 L1202.7,447.2 L1200.6,455.6 L1210.1,467.5 L1202.7,474.1 L1195.9,478.1"/>
<path d="M1211.1,436.9 L1228.0,446.4 L1224.8,455.6"/>
<path d="M899.3,565.1 L929.4,565.1 L929.4,560.3 L1022.1,562.4"/>
<path d="M1022.1,562.4 L1064.0,562.7 L1093.1,563.7 L1186.5,563.7"/>
<path d="M882.4,604.6 L926.7,604.6 L981.4,605.1 L1008.4,604.9 L1033.9,604.6"/>
<path d="M926.7,604.6 L928.8,607.2 L921.0,686.3 L922.4,726.7"/>
<path d="M981.4,605.1 L990.3,660.8 L994.1,675.8 L991.6,689.0 L993.0,695.6 L994.1,710.1"/>
<path d="M994.1,710.1 L939.3,710.1 L943.5,719.3 L941.0,729.1"/>
<path d="M994.1,710.1 L997.0,718.0 L1053.1,721.4 L1056.2,726.9 L1057.3,720.6 L1058.3,715.3 L1065.7,717.5 L1068.9,717.7"/>
<path d="M1008.4,604.9 L1014.1,596.7 L1021.5,589.6 L1034.1,584.3 L1038.3,579.6 L1044.7,576.9 L1055.2,575.6 L1064.0,562.7"/>
<path d="M1033.9,604.6 L1049.9,599.3 L1077.3,600.7 L1077.7,603.3 L1079.8,602.0 L1083.0,609.4 L1106.4,609.9 L1130.0,634.7"/>
<path d="M1033.9,604.6 L1028.8,612.5 L1038.3,619.1 L1044.7,631.0 L1053.1,638.9 L1058.3,644.2 L1067.8,657.3 L1069.9,667.9 L1075.2,678.4 L1080.9,682.7"/>
<path d="M1022.1,562.4 L1034.1,555.8 L1042.5,549.2 L1051.0,544.0 L1057.9,537.6"/>
<path d="M1057.9,537.6 L1051.0,533.4 L1046.8,525.5 L1044.7,514.4"/>
<path d="M1057.9,537.6 L1063.6,545.3 L1074.1,545.3 L1082.6,540.8 L1093.1,537.4 L1099.4,525.5 L1106.8,511.0 L1114.2,514.4 L1122.6,504.4 L1130.0,499.1 L1134.2,489.9 L1145.2,495.2 L1147.5,490.7"/>
<path d="M1110.4,480.2 L1110.4,493.9 L1118.4,487.3 L1124.7,483.3 L1132.1,484.6 L1137.4,481.2 L1144.7,483.3 L1147.5,490.7 L1152.1,493.9 L1156.3,497.8 L1160.1,501.0 L1161.8,504.4"/>
<path d="M1188.1,480.2 L1190.0,513.4 L1203.7,513.7"/>
<path d="M1186.9,526.3 L1196.4,525.0"/>
<path d="M1239.5,340.7 L1238.5,351.5 L1239.5,362.1 L1238.1,376.6 L1241.7,379.2 L1241.2,400.3"/>
<path d="M1241.2,400.3 L1236.4,418.7 L1236.6,438.5 L1232.2,443.8 L1233.2,446.4"/>
<path d="M1278.5,340.7 L1276.4,354.1 L1266.9,364.7 L1263.8,373.9 L1259.6,385.8 L1258.3,400.8"/>
<path d="M1241.2,400.3 L1258.3,400.8 L1282.7,401.6 L1288.0,397.6 L1292.9,397.1"/>
<path d="M1236.4,418.7 L1272.2,419.5 L1281.1,419.5 L1281.1,422.7 L1284.8,428.0 L1286.5,433.2"/>
<path d="M1272.2,419.5 L1272.2,435.9 L1270.9,438.0"/>
<path d="M1287.4,333.1 L1289.1,359.4 L1289.7,379.2 L1293.3,388.4 L1295.0,391.8"/>
<path stroke-width="6" d="M199.0,238.0 L204.0,242.0 L200.0,247.0 L206.0,252.0 L203.0,258.0 L207.0,264.0 L204.0,270.0 L208.0,276.0 L204.0,282.0 L199.0,286.0"/>
<path stroke-width="5" d="M193.0,244.0 L196.0,248.0 L193.0,251.0"/>
<path stroke-width="5" d="M195.0,277.0 L199.0,281.0 L196.0,286.0 L193.0,282.0"/>
<path stroke-width="4" d="M200.0,262.0 L196.0,268.0 L198.0,274.0"/>
<path stroke-width="5" d="M203.0,521.0 L208.0,524.0 L211.0,530.0 L208.0,533.0 L212.0,538.0 L215.0,541.0"/>
<path stroke-width="4" d="M206.0,528.0 L209.0,535.0"/>
<path stroke-width="4" d="M1177.4,536.1 L1169.0,529.5 L1162.6,522.9 L1156.3,518.9"/>
<path stroke-width="4" d="M1175.3,545.3 L1169.0,538.7 L1164.7,536.1"/>
<path stroke-width="4" d="M1175.3,553.2 L1169.0,547.9 L1162.6,545.3 L1156.3,542.7"/>
<path stroke-width="4" d="M1176.8,524.2 L1169.0,520.2 L1162.6,516.3 L1157.4,512.3 L1161.8,504.4"/>
<path stroke-width="4" d="M1181.6,484.6 L1177.4,491.2 L1174.2,500.5 L1174.2,512.3 L1177.4,522.9 L1178.4,536.1 L1179.5,549.2"/>
<path stroke-width="4" d="M1183.7,487.3 L1179.5,499.1 L1178.4,509.7 L1181.6,517.6 L1185.8,525.5"/>
<path stroke-width="4" d="M1183.7,509.7 L1179.5,505.7"/>
<path stroke-width="5" d="M1185.8,578.2 L1177.4,578.2 L1169.0,578.2"/>
<path stroke-width="4" d="M1183.7,594.1 L1173.2,593.5 L1163.7,591.4"/>
<path stroke-width="4" d="M1175.3,604.6 L1166.9,603.3 L1162.6,602.0"/>
<path stroke-width="4" d="M1187.9,588.8 L1185.8,580.9 L1183.7,573.0"/>
<path stroke-width="4" d="M1175.3,605.9 L1171.1,611.2 L1162.6,613.0"/>
<path stroke-width="3" d="M1143.7,633.6 L1142.6,625.7"/>
<path stroke-width="3" d="M882.0,731.0 L886.0,726.0 L893.0,726.0 L898.0,731.0 L894.0,737.0 L886.0,737.0 L882.0,731.0"/>
<path stroke-width="3" d="M896.0,738.0 L901.0,744.0 L897.0,748.0 L904.0,752.0 L908.0,757.0"/>
<path stroke-width="3" d="M898.0,740.0 L905.0,738.0 L909.0,742.0"/>
<path stroke-width="5" d="M781.0,741.0 L785.0,746.0 L782.0,750.0"/>
<path stroke-width="5" d="M786.0,738.0 L788.0,744.0"/>
<path stroke-width="4" d="M745.0,778.0 L752.0,772.0 L760.0,768.0"/>
<path stroke-width="4" d="M738.0,786.0 L742.0,782.0"/>
<path stroke-width="4" d="M727.0,806.0 L731.0,801.0 L733.0,797.0"/>
<path stroke-width="4" d="M724.0,818.0 L727.0,812.0"/>
<path stroke-width="5" d="M1040.0,787.0 L1045.0,791.0 L1043.0,796.0"/>
<path stroke-width="4" d="M1052.0,812.0 L1055.0,816.0"/>
<path stroke-width="4" d="M1046.0,804.0 L1048.0,808.0"/>
<path stroke-width="3" d="M930.9,718.5 L929.8,727.2"/>
<path stroke-width="4" d="M1374.0,346.2 L1367.0,351.0 L1356.5,354.1 L1350.2,357.3 L1343.8,360.7 L1335.4,355.5 L1332.3,362.1 L1329.1,367.3 L1320.7,371.3 L1313.3,373.9 L1305.9,377.3"/>
<path stroke-width="3" d="M1341.7,359.4 L1339.6,354.1"/>
<path stroke-width="3" d="M1324.9,368.6 L1322.8,364.7"/>
<path stroke-width="4" d="M1297.5,435.9 L1300.7,436.4"/>
<path stroke-width="4" d="M1308.0,439.0 L1310.6,438.5"/>
<path stroke-width="3" d="M1282.7,433.2 L1281.7,430.1"/>
<path stroke-width="4" d="M1230.1,451.2 L1238.5,448.5 L1253.2,447.2 L1261.7,443.3"/>
<path stroke-width="4" d="M1257.5,451.2 L1240.6,456.2 L1226.9,457.8"/>
<path stroke-width="4" d="M939.3,338.3 L936.1,342.3 L930.9,351.5"/>
<path stroke-width="4" d="M943.5,343.6 L949.8,334.4"/>
<path stroke-width="4" d="M1195.9,478.1 L1193.2,483.3 L1194.2,489.9"/>
<path stroke-width="4" d="M172.4,308.0 L182.9,309.3 L191.3,314.6 L196.6,321.2"/>
<path stroke-width="4" d="M170.2,289.5 L175.5,289.0"/>
<path stroke-width="4" d="M171.3,297.5 L174.5,300.1"/>
</g></svg>
<div class="sw" style="left:1417px;top:407.00px;background:#4d4d4d"></div><div class="lb" style="left:1454.5px;top:407.00px">excl.-sev.</div>
<div class="sw" style="left:1417px;top:432.45px;background:#b3b3b3"></div><div class="lb" style="left:1454.5px;top:432.45px">excl.-mod.</div>
<div class="sw" style="left:1417px;top:457.90px;background:#aaf5e0"></div><div class="lb" style="left:1454.5px;top:457.90px">Feb-15</div>
<div class="sw" style="left:1417px;top:483.35px;background:#90e2d2"></div><div class="lb" style="left:1454.5px;top:483.35px">Feb-22</div>
<div class="sw" style="left:1417px;top:508.80px;background:#b9ffc0"></div><div class="lb" style="left:1454.5px;top:508.80px">Mar-01</div>
<div class="sw" style="left:1417px;top:534.25px;background:#90d297"></div><div class="lb" style="left:1454.5px;top:534.25px">Mar-08</div>
<div class="sw" style="left:1417px;top:559.70px;background:#67a86d"></div><div class="lb" style="left:1454.5px;top:559.70px">Mar-15</div>
<div class="sw" style="left:1417px;top:585.15px;background:#3e7d43"></div><div class="lb" style="left:1454.5px;top:585.15px">Mar-22</div>
<div class="sw" style="left:1417px;top:610.60px;background:#155219"></div><div class="lb" style="left:1454.5px;top:610.60px">Mar-29</div>
<div class="sw" style="left:1417px;top:636.05px;background:#ccff00"></div><div class="lb" style="left:1454.5px;top:636.05px">Apr-05</div>
<div class="sw" style="left:1417px;top:661.50px;background:#a6ea05"></div><div class="lb" style="left:1454.5px;top:661.50px">Apr-12</div>
<div class="sw" style="left:1417px;top:686.95px;background:#7fde0a"></div><div class="lb" style="left:1454.5px;top:686.95px">Apr-19</div>
<div class="sw" style="left:1417px;top:712.40px;background:#55d10f"></div><div class="lb" style="left:1454.5px;top:712.40px">Apr-26</div>
<div class="sw" style="left:1417px;top:737.85px;background:#ffff00"></div><div class="lb" style="left:1454.5px;top:737.85px">May-03</div>
<div class="sw" style="left:1417px;top:763.30px;background:#dfd800"></div><div class="lb" style="left:1454.5px;top:763.30px">May-10</div>
<div class="sw" style="left:1577px;top:407.00px;background:#bfb000"></div><div class="lb" style="left:1614px;top:407.00px">May-17</div>
<div class="sw" style="left:1577px;top:432.45px;background:#9f8809"></div><div class="lb" style="left:1614px;top:432.45px">May-24</div>
<div class="sw" style="left:1577px;top:457.90px;background:#7f600a"></div><div class="lb" style="left:1614px;top:457.90px">May-31</div>
<div class="sw" style="left:1577px;top:483.35px;background:#ffd68f"></div><div class="lb" style="left:1614px;top:483.35px">Jun-07</div>
<div class="sw" style="left:1577px;top:508.80px;background:#ffc070"></div><div class="lb" style="left:1614px;top:508.80px">Jun-14</div>
<div class="sw" style="left:1577px;top:534.25px;background:#ffac55"></div><div class="lb" style="left:1614px;top:534.25px">Jun-21</div>
<div class="sw" style="left:1577px;top:559.70px;background:#ff9933"></div><div class="lb" style="left:1614px;top:559.70px">Jun-28</div>
<div class="sw" style="left:1577px;top:585.15px;background:#f5c9c9"></div><div class="lb" style="left:1614px;top:585.15px">Jul-05</div>
<div class="sw" style="left:1577px;top:610.60px;background:#f79a9a"></div><div class="lb" style="left:1614px;top:610.60px">Jul-12</div>
<div class="sw" style="left:1577px;top:636.05px;background:#f96868"></div><div class="lb" style="left:1614px;top:636.05px">Jul-19</div>
<div class="sw" style="left:1577px;top:661.50px;background:#fb3535"></div><div class="lb" style="left:1614px;top:661.50px">Jul-26</div>
<div class="sw" style="left:1577px;top:686.95px;background:#ebbbb3"></div><div class="lb" style="left:1614px;top:686.95px">Aug-02</div>
<div class="sw" style="left:1577px;top:712.40px;background:#cf9486"></div><div class="lb" style="left:1614px;top:712.40px">Aug-09</div>
<div class="sw" style="left:1577px;top:737.85px;background:#b56c5c"></div><div class="lb" style="left:1614px;top:737.85px">Aug-16</div>
<div class="sw" style="left:1577px;top:763.30px;background:#9b4432"></div><div class="lb" style="left:1614px;top:763.30px">Aug-23</div>
<div class="sw" style="left:1704px;top:407.00px;background:#85200f"></div><div class="lb" style="left:1739.5px;top:407.00px">Aug-30</div>
<div class="sw" style="left:1704px;top:432.45px;background:#ffb3da"></div><div class="lb" style="left:1739.5px;top:432.45px">Sep-06</div>
<div class="sw" style="left:1704px;top:457.90px;background:#ff85e0"></div><div class="lb" style="left:1739.5px;top:457.90px">Sep-13</div>
<div class="sw" style="left:1704px;top:483.35px;background:#ff5ae8"></div><div class="lb" style="left:1739.5px;top:483.35px">Sep-20</div>
<div class="sw" style="left:1704px;top:508.80px;background:#ff2df0"></div><div class="lb" style="left:1739.5px;top:508.80px">Sep-27</div>
<div class="sw" style="left:1704px;top:534.25px;background:#e0c0e6"></div><div class="lb" style="left:1739.5px;top:534.25px">Oct-04</div>
<div class="sw" style="left:1704px;top:559.70px;background:#cd9bd6"></div><div class="lb" style="left:1739.5px;top:559.70px">Oct-11</div>
<div class="sw" style="left:1704px;top:585.15px;background:#ba74c9"></div><div class="lb" style="left:1739.5px;top:585.15px">Oct-18</div>
<div class="sw" style="left:1704px;top:610.60px;background:#a84dbb"></div><div class="lb" style="left:1739.5px;top:610.60px">Oct-25</div>
<div class="sw" style="left:1704px;top:636.05px;background:#b5ebff"></div><div class="lb" style="left:1739.5px;top:636.05px">Nov-01</div>
<div class="sw" style="left:1704px;top:661.50px;background:#8fd6f2"></div><div class="lb" style="left:1739.5px;top:661.50px">Nov-08</div>
<div class="sw" style="left:1704px;top:686.95px;background:#63c2ea"></div><div class="lb" style="left:1739.5px;top:686.95px">Nov-15</div>
<div class="sw" style="left:1704px;top:712.40px;background:#2eaadc"></div><div class="lb" style="left:1739.5px;top:712.40px">Nov-23</div>
<div class="sw" style="left:1704px;top:737.85px;background:#a3c6e8"></div><div class="lb" style="left:1739.5px;top:737.85px">Dec-03</div>
<div class="sw" style="left:1704px;top:763.30px;background:#7a96f0"></div><div class="lb" style="left:1739.5px;top:763.30px">Dec-06</div>
<div class="sw" style="left:1829px;top:407.00px;background:#5165f3"></div><div class="lb" style="left:1865px;top:407.00px">Dec-19</div>
<div class="sw" style="left:1829px;top:432.45px;background:#2b33f7"></div><div class="lb" style="left:1865px;top:432.45px">Dec-22</div>
</body></html>
